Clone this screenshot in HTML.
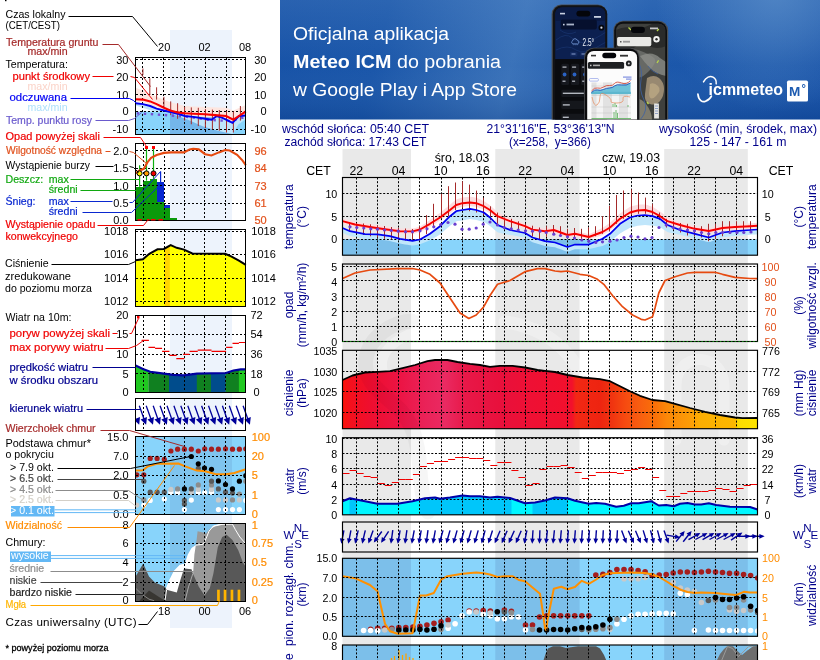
<!DOCTYPE html>
<html lang="pl"><head><meta charset="utf-8"><title>Meteo ICM - meteogram</title>
<style>html,body{margin:0;padding:0;background:#fff;overflow:hidden}svg{display:block;will-change:transform;transform:translateZ(0)}
text{font-family:"Liberation Sans",sans-serif}</style></head><body>
<svg width="820" height="660" viewBox="0 0 820 660">
<defs>
<linearGradient id="bg0" x1="0" y1="0" x2="1" y2="0">
<stop offset="0" stop-color="#1651a6"/><stop offset="0.22" stop-color="#1a56a9"/>
<stop offset="0.36" stop-color="#2f68b3"/><stop offset="0.44" stop-color="#3a72b9"/><stop offset="0.52" stop-color="#2d66b2"/>
<stop offset="0.64" stop-color="#1c58ab"/><stop offset="0.85" stop-color="#1a55a9"/><stop offset="1" stop-color="#154fa5"/></linearGradient>
<linearGradient id="bg1" x1="0" y1="0" x2="0" y2="1"><stop offset="0" stop-color="#6a9ad2" stop-opacity=".22"/><stop offset=".55" stop-color="#6a9ad2" stop-opacity="0"/><stop offset="1" stop-color="#002a70" stop-opacity=".22"/></linearGradient>
<radialGradient id="bg2" gradientUnits="userSpaceOnUse" cx="775" cy="-8" r="120"><stop offset="0" stop-color="#5a8eca" stop-opacity=".75"/><stop offset="1" stop-color="#5a8eca" stop-opacity="0"/></radialGradient>
<linearGradient id="ph1" x1="0" y1="0" x2="0" y2="1"><stop offset="0" stop-color="#0b1f4d"/><stop offset=".45" stop-color="#0a1836"/><stop offset=".5" stop-color="#0c0d12"/><stop offset="1" stop-color="#0b0b0e"/></linearGradient>
<clipPath id="bclip"><rect x="280" y="0" width="540" height="119.5"/></clipPath>
</defs>
<g clip-path="url(#bclip)">
<rect x="240" y="-10" width="620" height="140" fill="url(#bg0)" transform="skewX(-14) translate(15 0)"/>
<rect x="280" y="0" width="540" height="119.5" fill="url(#bg1)"/>
<rect x="280" y="0" width="540" height="119.5" fill="url(#bg2)"/>
<text x="293" y="39.5" fill="#fff" font-size="17.5" textLength="156" lengthAdjust="spacingAndGlyphs">Oficjalna aplikacja</text>
<text x="293" y="67.5" fill="#fff" font-size="17.5" textLength="208" lengthAdjust="spacingAndGlyphs"><tspan font-weight="bold">Meteo ICM</tspan> do pobrania</text>
<text x="293" y="95.5" fill="#fff" font-size="17.5" textLength="224" lengthAdjust="spacingAndGlyphs">w Google Play i App Store</text>
<rect x="551.600" y="4.600" width="55.600" height="130" rx="9.500" fill="#4a4d50"/>
<rect x="552.800" y="5.200" width="54.400" height="130" rx="9" fill="#111215"/>
<clipPath id="p1c"><rect x="555.200" y="7.400" width="50" height="125" rx="6.500"/></clipPath>
<g clip-path="url(#p1c)">
<rect x="555" y="7" width="51" height="52.200" fill="#0c2050"/><rect x="555" y="59.200" width="51" height="70" fill="#0a0b0e"/>
<rect x="555" y="7" width="51" height="14" fill="#0a1a44"/>
<path d="M556 40q10 -8 16 -2t14 4t20 -10M556 50q12 -6 20 0t30 -8M560 30q8 6 16 2" fill="none" stroke="#1a3570" stroke-width=".7"/>
<rect x="560.700" y="19.400" width="36.100" height="10.200" rx="2" fill="#06102e"/>
<rect x="563" y="23.800" width="1.600" height="1.600" fill="#c8d0e0"/><rect x="566.500" y="23.600" width="7.500" height="1.800" fill="#aab4c8"/>
<rect x="560" y="12.800" width="5" height="1.600" fill="#c8d0e0"/><rect x="594" y="16" width="7" height="1.800" fill="#c8d0e0"/>
<circle cx="601.400" cy="27.700" r="2.900" fill="#05070f"/><circle cx="601.400" cy="27.700" r="1.100" fill="#d8deea"/>
<path d="M572.600 40.800a2.400 2.400 0 0 1 4.600 -.6a1.900 1.900 0 0 1 .4 3.700h-4.800a1.700 1.700 0 0 1 -.2 -3.100z" fill="none" stroke="#7aa0e0" stroke-width=".8"/><path d="M573.500 45.200l.6 -1M575.500 45.200l.6 -1M577.300 45.200l.6 -1" stroke="#7aa0e0" stroke-width=".6"/>
<rect x="570" y="51.800" width="7.400" height="4.600" rx="1" fill="#13295e"/><rect x="580.100" y="51.800" width="6.500" height="4.600" rx="1" fill="#13295e"/>
<rect x="571.500" y="53.500" width="4" height="1" fill="#8aa0d0"/><rect x="581.500" y="53.500" width="3.500" height="1" fill="#8aa0d0"/>
<rect x="561.3" y="63.800" width="7.7" height="21.200" rx="1.500" fill="#16181e"/>
<rect x="562.5" y="66.500" width="4" height="1.200" fill="#c0c4cc"/><circle cx="564.6" cy="74.500" r="1.900" fill="#2a62c4"/><rect x="562.5" y="80.600" width="3" height="1.200" fill="#c0c4cc"/>
<rect x="570.9" y="63.800" width="8.3" height="21.200" rx="1.500" fill="#16181e"/>
<rect x="572.1" y="66.500" width="4" height="1.200" fill="#c0c4cc"/><circle cx="574.5" cy="74.500" r="1.900" fill="#2a62c4"/><rect x="572.1" y="80.600" width="3" height="1.200" fill="#c0c4cc"/>
<rect x="581" y="63.800" width="9.0" height="21.200" rx="1.500" fill="#16181e"/>
<rect x="582.2" y="66.500" width="4" height="1.200" fill="#c0c4cc"/><circle cx="585.0" cy="74.500" r="1.900" fill="#2a62c4"/><rect x="582.2" y="80.600" width="3" height="1.200" fill="#c0c4cc"/>
<rect x="561.300" y="89.7" width="30" height="7.3" rx="1.200" fill="#15171c"/><rect x="562.800" y="92.6" width="21" height="1.400" fill="#b4b8c0"/>
<rect x="561.300" y="100.8" width="30" height="8.2" rx="1.200" fill="#15171c"/><rect x="562.800" y="104.2" width="7" height="1.400" fill="#b4b8c0"/>
<rect x="561.300" y="113.7" width="30" height="7.3" rx="1.200" fill="#15171c"/><rect x="562.800" y="116.6" width="6" height="1.400" fill="#b4b8c0"/>
</g>
<rect x="576.400" y="10.700" width="13.900" height="5.800" rx="2.900" fill="#04050a"/>
<rect x="613.400" y="20.700" width="54.800" height="115" rx="9.500" fill="#4c4f52"/>
<rect x="614.200" y="21.500" width="52.800" height="115" rx="9" fill="#0e0f11"/>
<clipPath id="p2c"><rect x="616.200" y="23.700" width="49" height="112" rx="6.500"/></clipPath>
<g clip-path="url(#p2c)">
<rect x="616" y="23" width="50" height="100" fill="#3f403d"/>
<path d="M616 30q8 -4 16 -2t20 -4h14v22q-8 4 -18 0t-16 4t-16 -2z" fill="#2a2b2a"/>
<path d="M616 52q10 -6 22 -2t16 8t-6 14t-14 2t-18 4z" fill="#72736f" opacity=".8"/>
<path d="M640 56q12 -6 20 2l6 4v14q-10 -2 -16 -8t-10 -12z" fill="#8f908b" opacity=".75"/>
<path d="M647 78q7 -4 12 0t5 11t-4 12t-10 3t-5 -10t2 -16z" fill="#a8977a" opacity=".85"/><path d="M650 84q4 -2 8 2t-2 10t-7 -2z" fill="#c0ad88" opacity=".7"/>
<path d="M622 84q8 -2 12 6t-4 14t-10 2z" fill="#5d5e5a"/>
<path d="M630 100q10 -4 16 4t6 16h-26z" fill="#9a9482" opacity=".7"/>
<path d="M638 62q5 8 3 18t3 20t-4 20" fill="none" stroke="#3e62a4" stroke-width=".8"/><path d="M648 66q4 6 10 8" fill="none" stroke="#3e62a4" stroke-width=".7"/>
<rect x="617.100" y="37" width="34.200" height="9.200" rx="1.600" fill="#e9e9e6"/><rect x="620" y="41" width="1.500" height="1.500" fill="#555"/><rect x="623" y="40.800" width="7" height="1.800" fill="#999"/>
<circle cx="656.500" cy="39.200" r="3.200" fill="#f3f3f1"/><circle cx="656.500" cy="39.200" r="1.200" fill="#2a2a2a"/>
<rect x="654.100" y="103.500" width="4.800" height="15" fill="#e6e6e4"/><path d="M655 106h3M655 108.500h3M655 111h3M655 113.500h3" stroke="#5570b0" stroke-width=".6"/>
<path d="M628.500 27.500l2.500 2.500M657 31l1.800 -2M657 63l1.600 -2.600M647 102l1.500 2" stroke="#b8d64a" stroke-width="1.300"/>
<rect x="650" y="27.500" width="8" height="1.800" fill="#c8c8c8"/>
</g>
<rect x="631" y="26.800" width="13.900" height="6.100" rx="3" fill="#04050a"/>
<rect x="584.200" y="47.700" width="55.500" height="90" rx="9.500" fill="#4a4c4f"/>
<rect x="585" y="48.500" width="53.800" height="90" rx="9" fill="#0b0b0d"/>
<clipPath id="p3c"><rect x="587.200" y="50.900" width="49.900" height="90" rx="6.500"/></clipPath>
<g clip-path="url(#p3c)">
<rect x="587" y="50" width="51" height="72" fill="#fcfcfc"/>
<rect x="591" y="54.800" width="5" height="1.600" fill="#333"/><rect x="620" y="54.800" width="8" height="1.800" fill="#333"/>
<rect x="587.900" y="61.900" width="36.200" height="6.900" rx="1.500" fill="#1e2023"/><rect x="590" y="64.700" width="1.500" height="1.500" fill="#ccc"/><rect x="593" y="64.600" width="7" height="1.600" fill="#aaa"/>
<circle cx="628.800" cy="63.400" r="2.900" fill="#1e2023"/><circle cx="628.800" cy="63.400" r="1" fill="#ddd"/>
<rect x="589.400" y="78.500" width="9" height="2.600" rx="1" fill="none" stroke="#6a7fe0" stroke-width=".5"/><rect x="623" y="76.500" width="8.500" height="1.200" fill="#8090e0"/><rect x="626" y="78.500" width="5.500" height="1.200" fill="#8090e0"/>
<rect x="591.500" y="82.500" width="39.500" height="36" fill="#f4f4f4"/>
<rect x="591.5" y="82.500" width="5" height="36" fill="#e2e2e2"/>
<rect x="603" y="82.500" width="9" height="36" fill="#e2e2e2"/>
<rect x="619" y="82.500" width="9" height="36" fill="#e2e2e2"/>
<path d="M591.500 86h39.500M591.500 95.500h39.500M591.500 107h39.500M591.500 113h39.500" stroke="#bdbdbd" stroke-width=".4"/>
<path d="M591.500 92q3 -3 6 -2.500t6 -.5t6 -1.500t5 -2t7 -1t9 -2v11.500h-39.500z" fill="#6fc2d8"/>
<rect x="591.500" y="91.800" width="39.500" height="2.400" fill="#5ab4cc" opacity=".8"/>
<path d="M591.500 91q3 -4 6 -3t6 -1t6 -1.500t5 -2t7 -.5t9 -2.500" fill="none" stroke="#d23a2a" stroke-width=".8"/>
<path d="M591.500 92.500q3 -3.500 6 -2.500t6 -.5t6 -1.500t5 -2t7 -1t9 -2" fill="none" stroke="#2546b8" stroke-width=".8"/>
<path d="M592 97q2 10 5 8t3 -8t6 -2t5 6t6 2t6 -4t7 -2" fill="none" stroke="#e58a5c" stroke-width=".7"/>
<path d="M613 107v-3M615 107v-4M616.500 107v-2M614 118v-6M616 118v-8M617.500 118v-5M628 107v-2" stroke="#58b058" stroke-width=".8"/>
<rect x="591.500" y="118" width="39.500" height=".8" fill="#58b058"/>
</g>
<rect x="602.300" y="52.700" width="13.900" height="5.500" rx="2.750" fill="#04050a"/>
<text x="582.6" y="46.2" fill="#f0f4fa" font-size="10.5" textLength="11.500" lengthAdjust="spacingAndGlyphs">2.5°</text>
<path d="M697.900 94.100C698.600 100.500 702.500 102.600 705.600 101.200S710.600 98.200 711.400 96.100" fill="none" stroke="#fff" stroke-width="1.700" stroke-linecap="round"/>
<path d="M703.500 81.900C706 77.200 710 75.600 713 77.200S716.500 81 716.200 83.800" fill="none" stroke="#fff" stroke-width="1.500" stroke-linecap="round"/>
<text x="708.6" y="95.3" fill="#fff" font-size="17" font-weight="bold" textLength="74.500" lengthAdjust="spacingAndGlyphs">icmmeteo</text>
<rect x="787" y="80.600" width="21" height="21" rx="1.600" fill="#fff"/>
<text x="789" y="95.9" fill="#1d5bb0" font-size="12.3" font-weight="bold" textLength="11.300" lengthAdjust="spacingAndGlyphs">M</text>
<text x="801.6" y="92.3" fill="#1d5bb0" font-size="11" font-weight="bold">°</text>
</g>
<text x="282" y="133" fill="#00008b" font-size="12.3" textLength="147" lengthAdjust="spacingAndGlyphs">wschód słońca: 05:40 CET</text>
<text x="284.5" y="145.5" fill="#00008b" font-size="12.3" textLength="142" lengthAdjust="spacingAndGlyphs">zachód słońca: 17:43 CET</text>
<text x="550.5" y="133" fill="#00008b" font-size="12.3" text-anchor="middle" textLength="128" lengthAdjust="spacingAndGlyphs">21°31'16"E, 53°36'13"N</text>
<text x="550" y="145.5" fill="#00008b" font-size="12.3" text-anchor="middle" xml:space="preserve" textLength="82" lengthAdjust="spacingAndGlyphs">(x=258,  y=366)</text>
<text x="738" y="133" fill="#00008b" font-size="12.3" text-anchor="middle" textLength="158" lengthAdjust="spacingAndGlyphs">wysokość (min, środek, max)</text>
<text x="738" y="145.5" fill="#00008b" font-size="12.3" text-anchor="middle" textLength="97" lengthAdjust="spacingAndGlyphs">125 - 147 - 161 m</text>
<rect x="342.5" y="149" width="68.5" height="511" fill="#e9e9e9"/>
<rect x="495.3" y="149" width="84.3" height="511" fill="#e9e9e9"/>
<rect x="664.2" y="149" width="83.6" height="511" fill="#e9e9e9"/>
<g fill="none" stroke-linecap="round" stroke-linejoin="round">
<path d="M412 321C392 322 370 336 366 358S380 392 396 406S418 440 420 470S424 500 428 512" stroke="#000" stroke-opacity=".035" stroke-width="15"/>
<path d="M424 330C404 334 384 346 382 362S394 388 408 400" stroke="#fff" stroke-opacity=".35" stroke-width="10"/>
<path d="M505 322C562 330 590 372 592 420" stroke="#fff" stroke-opacity=".3" stroke-width="13"/>
<path d="M676 440V385C676 352 722 350 724 385V440" stroke="#fff" stroke-opacity=".3" stroke-width="11"/>
</g>
<text x="318.5" y="175" fill="#000" font-size="12.3" text-anchor="middle">CET</text>
<text x="781" y="175" fill="#000" font-size="12.3" text-anchor="middle">CET</text>
<text x="356.3" y="174.6" fill="#000" font-size="12.3" text-anchor="middle">22</text>
<text x="398.5" y="174.6" fill="#000" font-size="12.3" text-anchor="middle">04</text>
<text x="440.7" y="174.6" fill="#000" font-size="12.3" text-anchor="middle">10</text>
<text x="482.9" y="174.6" fill="#000" font-size="12.3" text-anchor="middle">16</text>
<text x="525.2" y="174.6" fill="#000" font-size="12.3" text-anchor="middle">22</text>
<text x="567.4" y="174.6" fill="#000" font-size="12.3" text-anchor="middle">04</text>
<text x="609.6" y="174.6" fill="#000" font-size="12.3" text-anchor="middle">10</text>
<text x="651.8" y="174.6" fill="#000" font-size="12.3" text-anchor="middle">16</text>
<text x="694.1" y="174.6" fill="#000" font-size="12.3" text-anchor="middle">22</text>
<text x="736.3" y="174.6" fill="#000" font-size="12.3" text-anchor="middle">04</text>
<text x="462" y="161.8" fill="#000" font-size="12.3" text-anchor="middle">śro, 18.03</text>
<text x="631" y="161.8" fill="#000" font-size="12.3" text-anchor="middle">czw, 19.03</text>
<clipPath id="rclip"><rect x="342.5" y="0" width="415" height="660"/></clipPath>
<g clip-path="url(#rclip)">
<rect x="342.5" y="239.4" width="415" height="15.8" fill="#88d4fb"/>
<rect x="342.5" y="239.4" width="68.5" height="15.8" fill="#7cbfea"/>
<rect x="495.3" y="239.4" width="84.3" height="15.8" fill="#7cbfea"/>
<rect x="664.2" y="239.4" width="83.6" height="15.8" fill="#7cbfea"/>
<polygon points="342.5,228.0 345.0,229.1 347.5,230.1 350.0,231.2 352.5,231.7 355.0,232.2 357.5,232.7 360.0,233.2 362.5,233.7 365.0,234.2 367.5,234.2 370.0,234.3 372.5,234.3 375.0,234.4 377.5,234.4 380.0,234.8 382.5,235.1 385.0,235.5 387.5,235.8 390.0,236.2 392.5,236.8 395.0,237.5 397.5,238.2 400.0,238.8 402.5,239.2 405.0,239.6 407.5,240.0 410.0,240.4 412.5,240.8 415.0,240.4 417.5,239.9 420.0,239.5 422.5,238.1 425.0,236.7 427.5,235.2 430.0,233.8 432.5,231.9 435.0,230.0 437.5,228.1 440.0,226.2 442.5,223.7 445.0,221.2 447.5,218.7 450.0,216.2 452.5,214.2 455.0,212.2 457.5,211.0 460.0,210.5 462.5,210.0 465.0,209.6 467.5,209.2 470.0,208.8 472.5,209.3 475.0,209.8 477.5,210.4 480.0,211.2 482.5,212.1 485.0,213.5 487.5,215.5 490.0,217.5 492.5,220.0 495.0,222.5 497.5,225.0 500.0,226.0 502.5,227.0 505.0,228.0 507.5,229.0 510.0,230.0 512.5,230.5 515.0,231.0 517.5,231.5 520.0,232.0 522.5,232.5 525.0,233.0 527.5,234.5 530.0,236.0 532.5,237.5 535.0,238.2 537.5,239.0 540.0,239.7 542.5,240.5 545.0,241.2 547.5,241.5 550.0,241.8 552.5,242.2 555.0,242.5 557.5,243.4 560.0,244.3 562.5,245.2 565.0,246.1 567.5,247.0 570.0,246.2 572.5,245.3 575.0,244.5 577.5,244.5 580.0,244.5 582.5,244.5 585.0,244.5 587.5,244.5 590.0,244.0 592.5,243.0 595.0,241.9 597.5,240.9 600.0,239.8 602.5,238.8 605.0,237.1 607.5,235.5 610.0,233.8 612.5,231.3 615.0,228.8 617.5,226.3 620.0,223.8 622.5,222.2 625.0,220.7 627.5,219.1 630.0,217.5 632.5,216.8 635.0,216.2 637.5,215.5 640.0,215.3 642.5,215.2 645.0,215.0 647.5,215.4 650.0,215.8 652.5,216.2 655.0,217.1 657.5,217.9 660.0,218.8 662.5,220.9 665.0,222.9 667.5,225.0 670.0,226.0 672.5,227.0 675.0,228.0 677.5,229.0 680.0,230.0 682.5,230.6 685.0,231.3 687.5,231.9 690.0,232.5 692.5,233.2 695.0,233.8 697.5,234.5 700.0,235.1 702.5,235.8 705.0,236.5 707.5,237.2 710.0,237.1 712.5,236.1 715.0,235.2 717.5,234.3 720.0,233.4 722.5,232.5 725.0,232.2 727.5,232.0 730.0,231.7 732.5,231.5 735.0,231.2 737.5,231.0 740.0,230.8 742.5,230.6 745.0,230.4 747.5,230.2 750.0,230.0 752.5,229.8 755.0,229.7 757.5,229.5 757.5,234.3 755.0,234.5 752.5,234.6 750.0,234.8 747.5,235.0 745.0,235.2 742.5,235.4 740.0,235.6 737.5,235.8 735.0,236.0 732.5,236.3 730.0,236.5 727.5,236.8 725.0,237.0 722.5,237.3 720.0,238.2 717.5,239.1 715.0,240.0 712.5,240.9 710.0,241.9 707.5,242.0 705.0,241.3 702.5,240.6 700.0,239.9 697.5,239.3 695.0,238.6 692.5,238.0 690.0,237.3 687.5,236.7 685.0,236.1 682.5,235.4 680.0,234.8 677.5,234.3 675.0,233.8 672.5,233.2 670.0,232.7 667.5,232.1 665.0,230.5 662.5,228.8 660.0,227.1 657.5,226.6 655.0,226.1 652.5,225.5 650.0,225.4 647.5,225.2 645.0,225.0 642.5,225.3 640.0,225.5 637.5,225.8 635.0,226.5 632.5,227.1 630.0,227.7 627.5,229.2 625.0,230.6 622.5,232.0 620.0,233.4 617.5,235.6 615.0,237.8 612.5,240.0 610.0,242.1 607.5,243.4 605.0,244.7 602.5,245.9 600.0,246.5 597.5,247.1 595.0,247.7 592.5,248.2 590.0,248.8 587.5,249.3 585.0,249.3 582.5,249.3 580.0,249.3 577.5,249.3 575.0,249.3 572.5,250.1 570.0,251.0 567.5,251.8 565.0,250.9 562.5,250.0 560.0,249.1 557.5,248.2 555.0,247.3 552.5,247.0 550.0,246.7 547.5,246.3 545.0,246.0 542.5,245.3 540.0,244.5 537.5,243.8 535.0,243.0 532.5,242.3 530.0,240.8 527.5,239.3 525.0,237.8 522.5,237.3 520.0,236.8 517.5,236.3 515.0,235.8 512.5,235.3 510.0,235.0 507.5,234.5 505.0,233.9 502.5,233.4 500.0,232.9 497.5,232.3 495.0,230.2 492.5,228.1 490.0,226.0 487.5,224.3 485.0,222.6 482.5,221.5 480.0,220.9 477.5,220.3 475.0,219.8 472.5,219.4 470.0,219.0 467.5,219.5 465.0,219.9 462.5,220.3 460.0,220.7 457.5,221.0 455.0,222.1 452.5,223.9 450.0,225.7 447.5,227.9 445.0,230.1 442.5,232.3 440.0,234.4 437.5,235.9 435.0,237.4 432.5,238.8 430.0,240.3 427.5,241.3 425.0,242.2 422.5,243.2 420.0,244.3 417.5,244.7 415.0,245.2 412.5,245.6 410.0,245.2 407.5,244.8 405.0,244.4 402.5,244.0 400.0,243.6 397.5,243.0 395.0,242.3 392.5,241.7 390.0,241.0 387.5,240.6 385.0,240.3 382.5,239.9 380.0,239.6 377.5,239.2 375.0,239.2 372.5,239.1 370.0,239.1 367.5,239.0 365.0,239.0 362.5,238.5 360.0,238.0 357.5,237.5 355.0,237.0 352.5,236.5 350.0,236.0 347.5,234.9 345.0,233.9 342.5,232.8" fill="#c0e6fb" fill-opacity="1"/>
<polygon points="342.5,218.4 345.0,219.1 347.5,219.7 350.0,220.4 352.5,221.0 355.0,221.7 357.5,222.1 360.0,222.5 362.5,222.9 365.0,223.4 367.5,223.8 370.0,224.2 372.5,224.6 375.0,224.9 377.5,225.3 380.0,225.7 382.5,226.0 385.0,226.4 387.5,226.7 390.0,227.1 392.5,227.4 395.0,227.7 397.5,228.1 400.0,228.4 402.5,228.4 405.0,228.5 407.5,228.5 410.0,228.6 412.5,228.6 415.0,228.0 417.5,227.3 420.0,226.7 422.5,225.1 425.0,223.4 427.5,221.8 430.0,220.1 432.5,218.3 435.0,216.4 437.5,214.6 440.0,212.9 442.5,210.8 445.0,208.7 447.5,206.7 450.0,204.7 452.5,202.5 455.0,200.4 457.5,199.0 460.0,198.2 462.5,197.4 465.0,197.2 467.5,196.9 470.0,196.7 472.5,197.1 475.0,197.4 477.5,198.2 480.0,199.3 482.5,200.4 485.0,201.8 487.5,203.5 490.0,205.2 492.5,207.5 495.0,209.7 497.5,212.0 500.0,213.3 502.5,214.5 505.0,215.8 507.5,217.0 510.0,218.3 512.5,219.2 515.0,220.1 517.5,220.9 520.0,221.7 522.5,222.6 525.0,223.4 527.5,224.5 530.0,225.7 532.5,226.8 535.0,227.1 537.5,227.4 540.0,227.8 542.5,228.1 545.0,228.4 547.5,228.1 550.0,227.7 552.5,227.4 555.0,227.6 557.5,228.6 560.0,229.5 562.5,230.4 565.0,231.3 567.5,232.2 570.0,231.8 572.5,231.4 575.0,231.0 577.5,231.6 580.0,232.2 582.5,232.7 585.0,233.3 587.5,233.9 590.0,233.8 592.5,232.6 595.0,231.4 597.5,230.2 600.0,229.1 602.5,227.9 605.0,226.2 607.5,224.5 610.0,222.8 612.5,220.4 615.0,218.1 617.5,215.7 620.0,213.4 622.5,211.7 625.0,210.0 627.5,208.4 630.0,206.7 632.5,206.0 635.0,205.4 637.5,204.7 640.0,204.6 642.5,204.5 645.0,204.4 647.5,205.1 650.0,205.9 652.5,206.7 655.0,208.3 657.5,209.9 660.0,211.5 662.5,213.3 665.0,215.2 667.5,217.1 670.0,218.1 672.5,219.1 675.0,220.2 677.5,221.2 680.0,222.2 682.5,222.8 685.0,223.5 687.5,224.1 690.0,224.7 692.5,225.4 695.0,226.0 697.5,226.4 700.0,226.8 702.5,227.2 705.0,227.6 707.5,228.0 710.0,227.9 712.5,227.4 715.0,226.8 717.5,226.3 720.0,225.7 722.5,225.2 725.0,225.0 727.5,224.8 730.0,224.6 732.5,224.4 735.0,224.2 737.5,224.1 740.0,223.9 742.5,223.8 745.0,223.7 747.5,223.5 750.0,223.4 752.5,223.3 755.0,223.1 757.5,223.0 757.5,228.4 755.0,228.5 752.5,228.7 750.0,228.8 747.5,228.9 745.0,229.1 742.5,229.2 740.0,229.3 737.5,229.5 735.0,229.6 732.5,229.8 730.0,230.0 727.5,230.2 725.0,230.4 722.5,230.6 720.0,231.1 717.5,231.7 715.0,232.2 712.5,232.8 710.0,233.3 707.5,233.4 705.0,233.0 702.5,232.6 700.0,232.2 697.5,231.8 695.0,231.4 692.5,230.8 690.0,230.1 687.5,229.5 685.0,228.9 682.5,228.2 680.0,227.6 677.5,226.9 675.0,226.3 672.5,225.6 670.0,224.9 667.5,224.2 665.0,222.6 662.5,221.0 660.0,219.4 657.5,218.1 655.0,216.8 652.5,215.4 650.0,214.8 647.5,214.2 645.0,213.5 642.5,213.7 640.0,213.9 637.5,214.1 635.0,214.8 632.5,215.4 630.0,216.1 627.5,217.6 625.0,219.2 622.5,220.7 620.0,222.3 617.5,224.4 615.0,226.5 612.5,228.6 610.0,230.7 607.5,232.2 605.0,233.6 602.5,235.0 600.0,235.9 597.5,236.7 595.0,237.5 592.5,238.3 590.0,239.2 587.5,239.3 585.0,238.7 582.5,238.1 580.0,237.6 577.5,237.0 575.0,236.4 572.5,236.8 570.0,237.2 567.5,237.6 565.0,236.7 562.5,235.8 560.0,234.9 557.5,234.0 555.0,233.0 552.5,232.8 550.0,233.1 547.5,233.5 545.0,233.8 542.5,233.5 540.0,233.2 537.5,232.8 535.0,232.5 532.5,232.2 530.0,231.1 527.5,229.9 525.0,228.8 522.5,228.0 520.0,227.1 517.5,226.3 515.0,225.5 512.5,224.6 510.0,223.8 507.5,222.9 505.0,222.0 502.5,221.1 500.0,220.2 497.5,219.3 495.0,217.3 492.5,215.3 490.0,213.3 487.5,211.8 485.0,210.3 482.5,209.1 480.0,208.2 477.5,207.2 475.0,206.6 472.5,206.4 470.0,206.1 467.5,206.3 465.0,206.6 462.5,206.8 460.0,207.5 457.5,208.2 455.0,209.5 452.5,211.5 450.0,213.4 447.5,215.3 445.0,217.1 442.5,218.9 440.0,220.7 437.5,222.2 435.0,223.7 432.5,225.2 430.0,226.7 427.5,228.0 425.0,229.4 422.5,230.7 420.0,232.1 417.5,232.7 415.0,233.4 412.5,234.0 410.0,234.0 407.5,233.9 405.0,233.9 402.5,233.8 400.0,233.8 397.5,233.5 395.0,233.1 392.5,232.8 390.0,232.5 387.5,232.1 385.0,231.8 382.5,231.4 380.0,231.1 377.5,230.7 375.0,230.3 372.5,230.0 370.0,229.6 367.5,229.2 365.0,228.8 362.5,228.3 360.0,227.9 357.5,227.5 355.0,227.1 352.5,226.4 350.0,225.8 347.5,225.1 345.0,224.5 342.5,223.8" fill="#fcdde0" fill-opacity="1"/>
</g>
<path d="M356.5 177.5V255.2M377.5 177.5V255.2M398.5 177.5V255.2M419.5 177.5V255.2M441.5 177.5V255.2M462.5 177.5V255.2M483.5 177.5V255.2M504.5 177.5V255.2M525.5 177.5V255.2M546.5 177.5V255.2M567.5 177.5V255.2M588.5 177.5V255.2M609.5 177.5V255.2M631.5 177.5V255.2M652.5 177.5V255.2M673.5 177.5V255.2M694.5 177.5V255.2M715.5 177.5V255.2M736.5 177.5V255.2M757.5 177.5V255.2M342.5 193.5H757.5M342.5 216.5H757.5M342.5 239.5H757.5" stroke="#000" stroke-width="1" stroke-dasharray="2 1.700" fill="none"/>
<path d="M349.5 222.5V231.2M356.5 223.0V233.1M363.5 223.5V235.0M370.5 224.3V236.3M377.5 225.2V237.5M384.5 226.0V238.8M391.5 227.0V239.4M398.5 228.0V240.0M405.5 228.5V240.5M412.5 229.0V241.0M419.5 226.0V240.5M426.5 215.1V234.1M433.5 203.8V226.2M441.5 193.8V217.5M448.5 186.2V216.2M455.5 182.5V210.0M462.5 181.3V207.6M469.5 184.6V211.2M476.5 190.6V212.5M483.5 197.7V215.1M490.5 206.3V220.0M497.5 212.6V223.8M504.5 217.5V226.2M511.5 218.8V230.0M518.5 221.3V231.5M525.5 223.8V233.0M532.5 225.7V236.5M539.5 227.5V239.9M546.5 226.2V236.8M553.5 225.0V233.8M560.5 226.2V236.2M567.5 228.8V238.8M574.5 228.0V238.8M581.5 228.8V238.8M588.5 227.5V237.5M595.5 226.2V236.2M602.5 216.1V233.8M609.5 206.0V231.1M616.5 195.0V223.8M623.5 190.5V218.8M631.5 189.5V215.0M638.5 192.5V213.8M645.5 197.6V213.8M652.5 204.0V216.3M659.5 212.6V220.1M666.5 218.8V227.5M673.5 221.2V230.0M680.5 223.0V232.5M687.5 223.8V235.5M694.5 225.0V236.2M701.5 226.2V237.5M708.5 223.8V241.2M715.5 223.8V238.8M722.5 221.2V236.2M729.5 221.2V233.8M736.5 221.2V233.5M743.5 221.2V233.1M750.5 221.2V232.8" stroke="#a52a2a" stroke-width="1" fill="none"/>
<polyline points="342.5,228.0 350.0,231.2 365.0,234.2 377.5,234.4 390.0,236.2 400.0,238.8 412.5,240.8 420.0,239.5 430.0,233.8 440.0,226.2 450.0,216.2 456.2,211.2 462.5,210.0 470.0,208.8 476.2,210.0 483.8,212.5 490.0,217.5 497.5,225.0 510.0,230.0 525.0,233.0 532.5,237.5 545.0,241.2 555.0,242.5 567.5,247.0 575.0,244.5 588.8,244.5 602.5,238.8 610.0,233.8 620.0,223.8 630.0,217.5 637.5,215.5 645.0,215.0 652.5,216.2 660.0,218.8 667.5,225.0 680.0,230.0 695.0,233.8 708.8,237.5 722.5,232.5 735.0,231.2 750.0,230.0 757.5,229.5" fill="none" stroke="#0000f0" stroke-width="1.750" stroke-linejoin="round"/>
<polyline points="342.5,221.2 355.0,224.5 370.0,227.0 385.0,229.2 400.0,231.2 412.5,231.4 420.0,229.5 430.0,223.8 440.0,217.5 450.0,210.0 456.2,205.0 462.5,203.2 470.0,202.5 476.2,203.2 483.8,206.2 490.0,210.0 497.5,216.2 510.0,221.2 525.0,226.2 532.5,229.6 545.0,231.2 553.8,230.0 567.5,235.0 575.0,233.8 588.8,237.0 602.5,232.0 610.0,227.5 620.0,218.8 630.0,212.5 637.5,210.5 645.0,210.0 652.5,212.0 660.0,216.2 667.5,221.2 680.0,225.0 695.0,228.8 708.8,231.0 722.5,228.0 735.0,227.0 750.0,226.2 757.5,225.8" fill="none" stroke="#f80000" stroke-width="1.900" stroke-linejoin="round"/>
<g fill="#6a3fd0"><circle cx="350.0" cy="226.8" r="1.600"/><circle cx="356.8" cy="227.5" r="1.600"/><circle cx="363.8" cy="228.0" r="1.600"/><circle cx="370.8" cy="228.8" r="1.600"/><circle cx="377.5" cy="229.2" r="1.600"/><circle cx="384.5" cy="230.0" r="1.600"/><circle cx="391.2" cy="230.5" r="1.600"/><circle cx="398.2" cy="231.2" r="1.600"/><circle cx="405.5" cy="231.8" r="1.600"/><circle cx="412.5" cy="231.8" r="1.600"/><circle cx="420.0" cy="230.8" r="1.600"/><circle cx="427.0" cy="228.8" r="1.600"/><circle cx="433.8" cy="226.8" r="1.600"/><circle cx="440.8" cy="224.5" r="1.600"/><circle cx="448.0" cy="222.5" r="1.600"/><circle cx="455.0" cy="224.2" r="1.600"/><circle cx="462.0" cy="229.2" r="1.600"/><circle cx="469.2" cy="229.2" r="1.600"/><circle cx="476.2" cy="228.0" r="1.600"/><circle cx="483.2" cy="224.2" r="1.600"/><circle cx="490.0" cy="222.0" r="1.600"/><circle cx="497.5" cy="225.0" r="1.600"/><circle cx="504.2" cy="227.5" r="1.600"/><circle cx="511.2" cy="228.8" r="1.600"/><circle cx="518.2" cy="230.0" r="1.600"/><circle cx="525.5" cy="230.8" r="1.600"/><circle cx="532.5" cy="231.2" r="1.600"/><circle cx="540.0" cy="231.2" r="1.600"/><circle cx="546.2" cy="232.5" r="1.600"/><circle cx="553.8" cy="234.2" r="1.600"/><circle cx="560.5" cy="235.5" r="1.600"/><circle cx="567.5" cy="236.8" r="1.600"/><circle cx="574.5" cy="238.0" r="1.600"/><circle cx="581.8" cy="240.0" r="1.600"/><circle cx="588.8" cy="241.2" r="1.600"/><circle cx="595.8" cy="242.5" r="1.600"/><circle cx="602.5" cy="241.8" r="1.600"/><circle cx="610.0" cy="241.2" r="1.600"/><circle cx="617.0" cy="240.0" r="1.600"/><circle cx="624.0" cy="237.5" r="1.600"/><circle cx="631.0" cy="236.2" r="1.600"/><circle cx="638.0" cy="237.0" r="1.600"/><circle cx="645.0" cy="238.8" r="1.600"/><circle cx="652.0" cy="237.5" r="1.600"/><circle cx="659.0" cy="227.5" r="1.600"/><circle cx="666.2" cy="225.0" r="1.600"/><circle cx="673.2" cy="227.5" r="1.600"/><circle cx="680.0" cy="229.2" r="1.600"/><circle cx="687.5" cy="230.0" r="1.600"/><circle cx="694.5" cy="230.8" r="1.600"/><circle cx="701.5" cy="232.5" r="1.600"/><circle cx="708.8" cy="233.8" r="1.600"/><circle cx="715.8" cy="232.5" r="1.600"/><circle cx="722.5" cy="232.5" r="1.600"/><circle cx="730.0" cy="232.5" r="1.600"/><circle cx="737.0" cy="232.5" r="1.600"/><circle cx="743.8" cy="232.5" r="1.600"/><circle cx="751.0" cy="232.0" r="1.600"/></g>
<rect x="342.5" y="177.5" width="415.0" height="77.7" fill="none" stroke="#000" stroke-width="1.150"/>
<text x="337.3" y="198.3" fill="#000" font-size="10.7" text-anchor="end">10</text>
<text x="337.3" y="220.8" fill="#000" font-size="10.7" text-anchor="end">5</text>
<text x="337.3" y="243.4" fill="#000" font-size="10.7" text-anchor="end">0</text>
<text x="767.8" y="198.3" fill="#000" font-size="10.7" text-anchor="middle">10</text>
<text x="767.8" y="220.8" fill="#000" font-size="10.7" text-anchor="middle">5</text>
<text x="767.8" y="243.4" fill="#000" font-size="10.7" text-anchor="middle">0</text>
<text transform="translate(293.3 216.8) rotate(-90)" fill="#00008b" font-size="12" text-anchor="middle">temperatura</text>
<text transform="translate(305.8 216.8) rotate(-90)" fill="#00008b" font-size="12" text-anchor="middle">(°C)</text>
<text transform="translate(803.3 216.8) rotate(-90)" fill="#00008b" font-size="12" text-anchor="middle">(°C)</text>
<text transform="translate(816 216.8) rotate(-90)" fill="#00008b" font-size="12" text-anchor="middle">temperatura</text>
<path d="M356.5 264V341.5M377.5 264V341.5M398.5 264V341.5M419.5 264V341.5M441.5 264V341.5M462.5 264V341.5M483.5 264V341.5M504.5 264V341.5M525.5 264V341.5M546.5 264V341.5M567.5 264V341.5M588.5 264V341.5M609.5 264V341.5M631.5 264V341.5M652.5 264V341.5M673.5 264V341.5M694.5 264V341.5M715.5 264V341.5M736.5 264V341.5M757.5 264V341.5M342.5 266.5H757.5M342.5 280.5H757.5M342.5 296.5H757.5M342.5 311.5H757.5M342.5 326.5H757.5" stroke="#000" stroke-width="1" stroke-dasharray="2 1.700" fill="none"/>
<polyline points="342.5,278.5 355.0,273.0 370.0,270.0 397.5,268.7 412.5,268.5 420.0,270.0 430.0,274.3 440.0,283.0 450.0,298.0 460.0,313.0 468.8,318.5 476.2,315.0 483.8,306.7 490.0,295.5 497.5,284.3 510.0,280.5 525.0,271.7 537.5,268.7 545.0,268.7 555.0,271.0 561.0,271.7 567.5,271.0 580.0,274.3 588.8,275.5 597.5,279.3 603.8,284.3 612.5,295.5 622.5,306.7 632.5,315.0 641.2,319.3 645.0,320.0 652.5,316.7 655.0,308.0 658.8,293.0 665.0,280.5 675.0,276.7 687.5,273.0 695.0,272.3 715.0,272.3 722.5,274.3 735.0,277.3 750.0,278.5 757.5,278.7" fill="none" stroke="#e64a10" stroke-width="1.700" stroke-linejoin="round"/>
<rect x="342.5" y="264" width="415.0" height="77.5" fill="none" stroke="#000" stroke-width="1.150"/>
<path d="M342.5 341.5H757.5" stroke="#0a8a0a" stroke-width="1" stroke-dasharray="1.500 2.200"/>
<text x="337.3" y="271.2" fill="#000" font-size="10.7" text-anchor="end">5</text>
<text x="337.3" y="286.2" fill="#000" font-size="10.7" text-anchor="end">4</text>
<text x="337.3" y="301.2" fill="#000" font-size="10.7" text-anchor="end">3</text>
<text x="337.3" y="316.2" fill="#000" font-size="10.7" text-anchor="end">2</text>
<text x="337.3" y="331.2" fill="#000" font-size="10.7" text-anchor="end">1</text>
<text x="337.3" y="346.2" fill="#000" font-size="10.7" text-anchor="end">0</text>
<text x="770.5" y="271.2" fill="#e2501a" font-size="10.7" text-anchor="middle">100</text>
<text x="770.5" y="286.2" fill="#e2501a" font-size="10.7" text-anchor="middle">90</text>
<text x="770.5" y="301.2" fill="#e2501a" font-size="10.7" text-anchor="middle">80</text>
<text x="770.5" y="316.2" fill="#e2501a" font-size="10.7" text-anchor="middle">70</text>
<text x="770.5" y="331.2" fill="#e2501a" font-size="10.7" text-anchor="middle">60</text>
<text x="770.5" y="346.2" fill="#e2501a" font-size="10.7" text-anchor="middle">50</text>
<text transform="translate(293.3 305) rotate(-90)" fill="#00008b" font-size="12" text-anchor="middle">opad</text>
<text transform="translate(305.8 305) rotate(-90)" fill="#00008b" font-size="12" text-anchor="middle">(mm/h, kg/m²/h)</text>
<text transform="translate(803.3 305.5) rotate(-90)" fill="#00008b" font-size="12" text-anchor="middle">(%)</text>
<text transform="translate(816 305.5) rotate(-90)" fill="#00008b" font-size="12" text-anchor="middle">wilgotność wzgl.</text>
<linearGradient id="pg" gradientUnits="userSpaceOnUse" x1="342.5" y1="0" x2="757.5" y2="0"><stop offset="0.0000" stop-color="#fb1208"/><stop offset="0.0181" stop-color="#f4101c"/><stop offset="0.0711" stop-color="#ee0e30"/><stop offset="0.1386" stop-color="#ec1444"/><stop offset="0.1988" stop-color="#ea2258"/><stop offset="0.2470" stop-color="#ea2a62"/><stop offset="0.2952" stop-color="#e81848"/><stop offset="0.3795" stop-color="#e8103c"/><stop offset="0.4518" stop-color="#ee1034"/><stop offset="0.5530" stop-color="#f2102c"/><stop offset="0.5627" stop-color="#f22814"/><stop offset="0.6205" stop-color="#ee2410"/><stop offset="0.6494" stop-color="#f03410"/><stop offset="0.6807" stop-color="#f64a10"/><stop offset="0.7169" stop-color="#f85e10"/><stop offset="0.7530" stop-color="#fa7008"/><stop offset="0.7819" stop-color="#fb8808"/><stop offset="0.8373" stop-color="#fc9c06"/><stop offset="0.8614" stop-color="#fcae02"/><stop offset="0.9458" stop-color="#fcb800"/><stop offset="0.9530" stop-color="#fcdc00"/><stop offset="1.0000" stop-color="#fde400"/></linearGradient>
<polygon points="342.5,380.0 352.5,375.5 365.0,372.5 377.5,371.8 390.0,371.2 402.5,368.2 415.0,365.0 427.5,361.2 435.0,360.0 447.5,360.0 457.5,362.0 470.0,363.8 480.0,365.0 490.0,366.8 500.0,365.8 512.5,365.8 525.0,367.5 537.5,370.0 545.0,370.8 555.0,372.0 567.5,375.0 582.5,377.5 600.0,379.2 610.0,381.2 620.0,386.2 630.0,391.2 640.0,395.8 652.5,400.0 665.0,401.2 675.0,403.8 690.0,408.0 705.0,411.8 720.0,415.0 735.0,417.5 742.5,418.2 757.5,418.0 757.5,428.7 342.5,428.7" fill="url(#pg)"/>
<clipPath id="prc"><polygon points="342.5,380.0 352.5,375.5 365.0,372.5 377.5,371.8 390.0,371.2 402.5,368.2 415.0,365.0 427.5,361.2 435.0,360.0 447.5,360.0 457.5,362.0 470.0,363.8 480.0,365.0 490.0,366.8 500.0,365.8 512.5,365.8 525.0,367.5 537.5,370.0 545.0,370.8 555.0,372.0 567.5,375.0 582.5,377.5 600.0,379.2 610.0,381.2 620.0,386.2 630.0,391.2 640.0,395.8 652.5,400.0 665.0,401.2 675.0,403.8 690.0,408.0 705.0,411.8 720.0,415.0 735.0,417.5 742.5,418.2 757.5,418.0 757.5,428.7 342.5,428.7"/></clipPath>
<g clip-path="url(#prc)" fill="none" stroke="#90002a" stroke-opacity=".08"><path d="M412 321C392 322 370 336 366 358S380 392 396 406S418 440 420 470" stroke-width="15"/></g>
<path d="M356.5 350.3V428.7M377.5 350.3V428.7M398.5 350.3V428.7M419.5 350.3V428.7M441.5 350.3V428.7M462.5 350.3V428.7M483.5 350.3V428.7M504.5 350.3V428.7M525.5 350.3V428.7M546.5 350.3V428.7M567.5 350.3V428.7M588.5 350.3V428.7M609.5 350.3V428.7M631.5 350.3V428.7M652.5 350.3V428.7M673.5 350.3V428.7M694.5 350.3V428.7M715.5 350.3V428.7M736.5 350.3V428.7M757.5 350.3V428.7M342.5 371.5H757.5M342.5 391.5H757.5M342.5 412.5H757.5" stroke="#000" stroke-width="1" stroke-dasharray="2 1.700" fill="none"/>
<polyline points="342.5,380.0 352.5,375.5 365.0,372.5 377.5,371.8 390.0,371.2 402.5,368.2 415.0,365.0 427.5,361.2 435.0,360.0 447.5,360.0 457.5,362.0 470.0,363.8 480.0,365.0 490.0,366.8 500.0,365.8 512.5,365.8 525.0,367.5 537.5,370.0 545.0,370.8 555.0,372.0 567.5,375.0 582.5,377.5 600.0,379.2 610.0,381.2 620.0,386.2 630.0,391.2 640.0,395.8 652.5,400.0 665.0,401.2 675.0,403.8 690.0,408.0 705.0,411.8 720.0,415.0 735.0,417.5 742.5,418.2 757.5,418.0" fill="none" stroke="#000" stroke-width="1.800" stroke-linejoin="round"/>
<rect x="342.5" y="350.3" width="415.0" height="78.4" fill="none" stroke="#000" stroke-width="1.150"/>
<text x="337.3" y="354.9" fill="#000" font-size="10.7" text-anchor="end">1035</text>
<text x="337.3" y="375.6" fill="#000" font-size="10.7" text-anchor="end">1030</text>
<text x="337.3" y="396.2" fill="#000" font-size="10.7" text-anchor="end">1025</text>
<text x="337.3" y="416.8" fill="#000" font-size="10.7" text-anchor="end">1020</text>
<text x="762" y="354.9" fill="#000" font-size="10.7">776</text>
<text x="762" y="375.6" fill="#000" font-size="10.7">772</text>
<text x="762" y="396.2" fill="#000" font-size="10.7">769</text>
<text x="762" y="416.8" fill="#000" font-size="10.7">765</text>
<text transform="translate(293.3 393) rotate(-90)" fill="#00008b" font-size="12" text-anchor="middle">ciśnienie</text>
<text transform="translate(305.8 393) rotate(-90)" fill="#00008b" font-size="12" text-anchor="middle">(hPa)</text>
<text transform="translate(803.3 393) rotate(-90)" fill="#00008b" font-size="12" text-anchor="middle">(mm Hg)</text>
<text transform="translate(816 393) rotate(-90)" fill="#00008b" font-size="12" text-anchor="middle">ciśnienie</text>
<clipPath id="wsc"><polygon points="342.5,501.2 350.0,498.2 356.0,499.5 365.0,501.2 377.5,503.8 397.5,503.8 412.5,501.2 425.0,498.2 435.0,497.5 440.0,498.8 450.0,497.5 462.5,495.5 470.0,496.2 480.0,496.2 490.0,497.5 497.5,496.8 510.0,498.0 525.0,503.2 535.0,502.5 545.0,500.5 555.0,497.5 567.5,498.2 575.0,500.8 588.8,503.8 596.2,503.0 605.0,503.8 616.2,506.8 623.8,505.8 631.2,503.2 638.8,503.2 651.2,501.2 658.8,505.5 666.2,505.0 673.8,506.2 680.0,503.8 687.5,503.0 695.0,504.5 701.2,504.5 708.8,503.2 716.2,505.0 730.0,506.8 750.0,507.0 757.5,509.5 757.5,514.8 342.5,514.8"/></clipPath>
<g clip-path="url(#wsc)"><rect x="342.5" y="480" width="415" height="40" fill="#00f6ff"/>
<rect x="349.5" y="480" width="7.1" height="40" fill="#00c6fa"/>
<rect x="420" y="480" width="91.5" height="40" fill="#00c6fa"/>
<rect x="532.5" y="480" width="35.1" height="40" fill="#00c6fa"/>
</g>
<path d="M356.5 437.7V514.8M377.5 437.7V514.8M398.5 437.7V514.8M419.5 437.7V514.8M441.5 437.7V514.8M462.5 437.7V514.8M483.5 437.7V514.8M504.5 437.7V514.8M525.5 437.7V514.8M546.5 437.7V514.8M567.5 437.7V514.8M588.5 437.7V514.8M609.5 437.7V514.8M631.5 437.7V514.8M652.5 437.7V514.8M673.5 437.7V514.8M694.5 437.7V514.8M715.5 437.7V514.8M736.5 437.7V514.8M757.5 437.7V514.8M342.5 438.5H757.5M342.5 453.5H757.5M342.5 468.5H757.5M342.5 484.5H757.5M342.5 499.5H757.5" stroke="#000" stroke-width="1" stroke-dasharray="2 1.700" fill="none"/>
<polyline points="342.5,501.2 350.0,498.2 356.0,499.5 365.0,501.2 377.5,503.8 397.5,503.8 412.5,501.2 425.0,498.2 435.0,497.5 440.0,498.8 450.0,497.5 462.5,495.5 470.0,496.2 480.0,496.2 490.0,497.5 497.5,496.8 510.0,498.0 525.0,503.2 535.0,502.5 545.0,500.5 555.0,497.5 567.5,498.2 575.0,500.8 588.8,503.8 596.2,503.0 605.0,503.8 616.2,506.8 623.8,505.8 631.2,503.2 638.8,503.2 651.2,501.2 658.8,505.5 666.2,505.0 673.8,506.2 680.0,503.8 687.5,503.0 695.0,504.5 701.2,504.5 708.8,503.2 716.2,505.0 730.0,506.8 750.0,507.0 757.5,509.5" fill="none" stroke="#0000a8" stroke-width="2" stroke-linejoin="round"/>
<path d="M342.5 473.5h7.04M349.5 470.5h7.04M356.6 473.5h7.04M363.6 476.5h7.04M370.6 477.5h7.04M377.7 483.5h7.04M384.7 485.5h7.04M391.8 482.5h7.04M398.8 479.5h7.04M405.8 479.5h7.04M412.9 474.5h7.04M419.9 466.5h7.04M426.9 463.5h7.04M434.0 461.5h7.04M441.0 461.5h7.04M448.1 459.5h7.04M455.1 457.5h7.04M462.1 457.5h7.04M469.2 458.5h7.04M476.2 458.5h7.04M483.2 460.5h7.04M490.3 465.5h7.04M497.3 462.5h7.04M504.4 462.5h7.04M511.4 470.5h7.04M518.4 477.5h7.04M525.5 485.5h7.04M532.5 483.5h7.04M539.5 469.5h7.04M546.6 466.5h7.04M553.6 466.5h7.04M560.6 465.5h7.04M567.7 467.5h7.04M574.7 472.5h7.04M581.8 478.5h7.04M588.8 475.5h7.04M595.8 472.5h7.04M602.9 472.5h7.04M609.9 472.5h7.04M616.9 473.5h7.04M624.0 470.5h7.04M631.0 469.5h7.04M638.1 467.5h7.04M645.1 469.5h7.04M652.1 477.5h7.04M659.2 490.5h7.04M666.2 496.5h7.04M673.2 496.5h7.04M680.3 493.5h7.04M687.3 491.5h7.04M694.4 491.5h7.04M701.4 491.5h7.04M708.4 490.5h7.04M715.5 488.5h7.04M722.5 489.5h7.04M729.5 491.5h7.04M736.6 488.5h7.04M743.6 485.5h7.04M750.6 484.5h7.04" stroke="#f00000" stroke-width="1" fill="none"/>
<rect x="342.5" y="437.7" width="415.0" height="77.1" fill="none" stroke="#000" stroke-width="1.150"/>
<text x="337.3" y="442.9" fill="#000" font-size="10.7" text-anchor="end">10</text>
<text x="337.3" y="458.1" fill="#000" font-size="10.7" text-anchor="end">8</text>
<text x="337.3" y="473.4" fill="#000" font-size="10.7" text-anchor="end">6</text>
<text x="337.3" y="488.7" fill="#000" font-size="10.7" text-anchor="end">4</text>
<text x="337.3" y="504.0" fill="#000" font-size="10.7" text-anchor="end">2</text>
<text x="337.3" y="519.2" fill="#000" font-size="10.7" text-anchor="end">0</text>
<text x="767.6" y="442.9" fill="#000" font-size="10.7" text-anchor="middle">36</text>
<text x="767.6" y="458.1" fill="#000" font-size="10.7" text-anchor="middle">29</text>
<text x="767.6" y="473.4" fill="#000" font-size="10.7" text-anchor="middle">22</text>
<text x="767.6" y="488.7" fill="#000" font-size="10.7" text-anchor="middle">14</text>
<text x="767.6" y="504.0" fill="#000" font-size="10.7" text-anchor="middle">7</text>
<text x="767.6" y="519.2" fill="#000" font-size="10.7" text-anchor="middle">0</text>
<text transform="translate(293.5 481) rotate(-90)" fill="#00008b" font-size="12" text-anchor="middle">wiatr</text>
<text transform="translate(305.8 481) rotate(-90)" fill="#00008b" font-size="12" text-anchor="middle">(m/s)</text>
<text transform="translate(803.3 481) rotate(-90)" fill="#00008b" font-size="12" text-anchor="middle">(km/h)</text>
<text transform="translate(816.2 481) rotate(-90)" fill="#00008b" font-size="12" text-anchor="middle">wiatr</text>
<path d="M356.5 522V552M377.5 522V552M398.5 522V552M419.5 522V552M441.5 522V552M462.5 522V552M483.5 522V552M504.5 522V552M525.5 522V552M546.5 522V552M567.5 522V552M588.5 522V552M609.5 522V552M631.5 522V552M652.5 522V552M673.5 522V552M694.5 522V552M715.5 522V552M736.5 522V552M757.5 522V552" stroke="#000" stroke-width="1" stroke-dasharray="2 1.700" fill="none"/>
<path d="M343.9 530.3L341.7 541.8" stroke="#00009a" stroke-width="1.400"/><polygon points="341.3,543.7 339.9,538.2 344.6,539.1" fill="#00009a"/><path d="M350.9 530.3L348.7 541.8" stroke="#00009a" stroke-width="1.400"/><polygon points="348.3,543.7 347.0,538.2 351.7,539.1" fill="#00009a"/><path d="M358.2 530.3L355.6 541.7" stroke="#00009a" stroke-width="1.400"/><polygon points="355.1,543.7 354.0,538.1 358.6,539.1" fill="#00009a"/><path d="M365.3 530.3L362.6 541.7" stroke="#00009a" stroke-width="1.400"/><polygon points="362.2,543.7 361.0,538.1 365.7,539.1" fill="#00009a"/><path d="M373.1 530.6L369.1 541.6" stroke="#00009a" stroke-width="1.400"/><polygon points="368.4,543.4 367.9,537.7 372.4,539.4" fill="#00009a"/><path d="M381.8 531.5L374.9 540.9" stroke="#00009a" stroke-width="1.400"/><polygon points="373.8,542.5 374.9,536.9 378.8,539.7" fill="#00009a"/><path d="M388.6 531.3L382.2 541.1" stroke="#00009a" stroke-width="1.400"/><polygon points="381.1,542.7 381.9,537.1 385.9,539.7" fill="#00009a"/><path d="M392.8 530.2L391.2 541.8" stroke="#00009a" stroke-width="1.400"/><polygon points="390.9,543.8 389.3,538.3 394.0,539.0" fill="#00009a"/><path d="M400.1 530.3L398.1 541.8" stroke="#00009a" stroke-width="1.400"/><polygon points="397.7,543.7 396.2,538.2 401.0,539.0" fill="#00009a"/><path d="M406.9 530.2L405.3 541.8" stroke="#00009a" stroke-width="1.400"/><polygon points="405.0,543.8 403.3,538.3 408.1,539.0" fill="#00009a"/><path d="M414.2 530.3L412.1 541.8" stroke="#00009a" stroke-width="1.400"/><polygon points="411.8,543.7 410.3,538.2 415.0,539.0" fill="#00009a"/><path d="M421.2 530.3L419.2 541.8" stroke="#00009a" stroke-width="1.400"/><polygon points="418.8,543.7 417.4,538.2 422.1,539.0" fill="#00009a"/><path d="M428.0 530.2L426.4 541.8" stroke="#00009a" stroke-width="1.400"/><polygon points="426.1,543.8 424.4,538.3 429.2,539.0" fill="#00009a"/><path d="M435.3 530.3L433.2 541.8" stroke="#00009a" stroke-width="1.400"/><polygon points="432.9,543.7 431.4,538.2 436.2,539.0" fill="#00009a"/><path d="M443.0 530.4L439.8 541.7" stroke="#00009a" stroke-width="1.400"/><polygon points="439.2,543.6 438.4,537.9 443.0,539.2" fill="#00009a"/><path d="M450.0 530.4L446.8 541.7" stroke="#00009a" stroke-width="1.400"/><polygon points="446.3,543.6 445.4,537.9 450.0,539.2" fill="#00009a"/><path d="M457.1 530.4L453.9 541.7" stroke="#00009a" stroke-width="1.400"/><polygon points="453.3,543.6 452.4,537.9 457.0,539.2" fill="#00009a"/><path d="M464.1 530.4L460.9 541.7" stroke="#00009a" stroke-width="1.400"/><polygon points="460.3,543.6 459.5,537.9 464.1,539.2" fill="#00009a"/><path d="M471.2 530.4L467.9 541.7" stroke="#00009a" stroke-width="1.400"/><polygon points="467.4,543.6 466.5,537.9 471.1,539.2" fill="#00009a"/><path d="M478.2 530.4L475.0 541.7" stroke="#00009a" stroke-width="1.400"/><polygon points="474.4,543.6 473.5,537.9 478.2,539.2" fill="#00009a"/><path d="M485.1 530.4L482.1 541.7" stroke="#00009a" stroke-width="1.400"/><polygon points="481.6,543.6 480.6,538.0 485.2,539.2" fill="#00009a"/><path d="M492.5 530.5L488.9 541.6" stroke="#00009a" stroke-width="1.400"/><polygon points="488.3,543.5 487.6,537.8 492.1,539.3" fill="#00009a"/><path d="M500.1 530.7L495.5 541.5" stroke="#00009a" stroke-width="1.400"/><polygon points="494.7,543.3 494.6,537.6 499.0,539.5" fill="#00009a"/><path d="M507.2 530.7L502.5 541.4" stroke="#00009a" stroke-width="1.400"/><polygon points="501.7,543.3 501.6,537.5 506.0,539.5" fill="#00009a"/><path d="M514.3 530.7L509.5 541.4" stroke="#00009a" stroke-width="1.400"/><polygon points="508.7,543.3 508.6,537.5 513.0,539.5" fill="#00009a"/><path d="M521.2 530.7L516.6 541.5" stroke="#00009a" stroke-width="1.400"/><polygon points="515.8,543.3 515.7,537.6 520.1,539.5" fill="#00009a"/><path d="M526.9 530.3L524.6 541.8" stroke="#00009a" stroke-width="1.400"/><polygon points="524.3,543.7 522.9,538.2 527.6,539.1" fill="#00009a"/><path d="M533.0 530.2L532.3 541.8" stroke="#00009a" stroke-width="1.400"/><polygon points="532.2,543.8 530.1,538.5 534.9,538.8" fill="#00009a"/><path d="M539.9 530.2L539.5 541.8" stroke="#00009a" stroke-width="1.400"/><polygon points="539.4,543.8 537.2,538.6 542.0,538.7" fill="#00009a"/><path d="M547.4 530.2L546.2 541.8" stroke="#00009a" stroke-width="1.400"/><polygon points="546.0,543.8 544.1,538.4 548.9,538.9" fill="#00009a"/><path d="M554.4 530.2L553.2 541.8" stroke="#00009a" stroke-width="1.400"/><polygon points="553.0,543.8 551.2,538.4 555.9,538.9" fill="#00009a"/><path d="M561.3 530.2L560.3 541.8" stroke="#00009a" stroke-width="1.400"/><polygon points="560.1,543.8 558.2,538.4 563.0,538.9" fill="#00009a"/><path d="M568.4 530.2L567.4 541.8" stroke="#00009a" stroke-width="1.400"/><polygon points="567.2,543.8 565.2,538.4 570.0,538.9" fill="#00009a"/><path d="M575.3 530.2L574.5 541.8" stroke="#00009a" stroke-width="1.400"/><polygon points="574.3,543.8 572.3,538.5 577.1,538.8" fill="#00009a"/><path d="M582.3 530.2L581.5 541.8" stroke="#00009a" stroke-width="1.400"/><polygon points="581.4,543.8 579.3,538.5 584.1,538.8" fill="#00009a"/><path d="M589.4 530.2L588.6 541.8" stroke="#00009a" stroke-width="1.400"/><polygon points="588.4,543.8 586.4,538.5 591.2,538.8" fill="#00009a"/><path d="M596.4 530.2L595.6 541.8" stroke="#00009a" stroke-width="1.400"/><polygon points="595.5,543.8 593.4,538.5 598.2,538.8" fill="#00009a"/><path d="M603.3 530.2L602.7 541.8" stroke="#00009a" stroke-width="1.400"/><polygon points="602.6,543.8 600.5,538.5 605.3,538.8" fill="#00009a"/><path d="M610.4 530.2L609.8 541.8" stroke="#00009a" stroke-width="1.400"/><polygon points="609.6,543.8 607.5,538.5 612.3,538.8" fill="#00009a"/><path d="M617.4 530.2L616.8 541.8" stroke="#00009a" stroke-width="1.400"/><polygon points="616.7,543.8 614.6,538.5 619.4,538.8" fill="#00009a"/><path d="M621.6 530.6L625.8 541.5" stroke="#00009a" stroke-width="1.400"/><polygon points="626.5,543.4 622.4,539.4 626.9,537.7" fill="#00009a"/><path d="M628.3 530.7L633.1 541.4" stroke="#00009a" stroke-width="1.400"/><polygon points="633.9,543.3 629.6,539.5 634.0,537.5" fill="#00009a"/><path d="M635.5 530.7L640.0 541.5" stroke="#00009a" stroke-width="1.400"/><polygon points="640.8,543.3 636.6,539.5 641.0,537.6" fill="#00009a"/><path d="M643.2 530.4L646.6 541.6" stroke="#00009a" stroke-width="1.400"/><polygon points="647.2,543.6 643.4,539.3 648.0,537.9" fill="#00009a"/><path d="M650.5 530.4L653.5 541.7" stroke="#00009a" stroke-width="1.400"/><polygon points="654.0,543.6 650.3,539.2 655.0,538.0" fill="#00009a"/><path d="M657.5 530.4L660.5 541.7" stroke="#00009a" stroke-width="1.400"/><polygon points="661.0,543.6 657.4,539.2 662.0,538.0" fill="#00009a"/><path d="M664.0 530.6L668.0 541.6" stroke="#00009a" stroke-width="1.400"/><polygon points="668.6,543.4 664.6,539.4 669.1,537.7" fill="#00009a"/><path d="M666.6 535.1L678.1 537.1" stroke="#00009a" stroke-width="1.400"/><polygon points="680.1,537.5 674.5,539.0 675.4,534.2" fill="#00009a"/><path d="M676.1 541.6L683.4 532.5" stroke="#00009a" stroke-width="1.400"/><polygon points="684.7,531.0 683.3,536.5 679.5,533.5" fill="#00009a"/><path d="M683.2 541.7L690.4 532.5" stroke="#00009a" stroke-width="1.400"/><polygon points="691.6,530.9 690.3,536.5 686.5,533.5" fill="#00009a"/><path d="M688.5 539.7L698.7 533.9" stroke="#00009a" stroke-width="1.400"/><polygon points="700.4,532.9 697.1,537.6 694.7,533.4" fill="#00009a"/><path d="M695.4 539.5L705.8 534.0" stroke="#00009a" stroke-width="1.400"/><polygon points="707.5,533.1 704.1,537.6 701.8,533.4" fill="#00009a"/><path d="M702.6 539.7L712.7 533.9" stroke="#00009a" stroke-width="1.400"/><polygon points="714.5,532.9 711.2,537.6 708.8,533.4" fill="#00009a"/><path d="M709.5 539.5L719.8 534.0" stroke="#00009a" stroke-width="1.400"/><polygon points="721.6,533.1 718.1,537.6 715.9,533.4" fill="#00009a"/><path d="M716.5 539.5L726.9 534.0" stroke="#00009a" stroke-width="1.400"/><polygon points="728.6,533.1 725.2,537.6 722.9,533.4" fill="#00009a"/><path d="M723.6 539.5L733.9 534.0" stroke="#00009a" stroke-width="1.400"/><polygon points="735.7,533.1 732.2,537.6 730.0,533.4" fill="#00009a"/><path d="M731.0 540.1L740.7 533.6" stroke="#00009a" stroke-width="1.400"/><polygon points="742.4,532.5 739.4,537.4 736.7,533.4" fill="#00009a"/><path d="M736.9 536.3L748.6 536.3" stroke="#00009a" stroke-width="1.400"/><polygon points="750.6,536.3 745.4,538.7 745.4,533.9" fill="#00009a"/><path d="M743.9 536.3L755.6 536.3" stroke="#00009a" stroke-width="1.400"/><polygon points="757.6,536.3 752.4,538.7 752.4,533.9" fill="#00009a"/><path d="M750.9 536.3L762.6 536.3" stroke="#00009a" stroke-width="1.400"/><polygon points="764.6,536.3 759.4,538.7 759.4,533.9" fill="#00009a"/>
<rect x="342.5" y="522" width="415.0" height="30.0" fill="none" stroke="#000" stroke-width="1.150"/>
<text x="298" y="531.5" fill="#00008b" font-size="11.6" text-anchor="middle">N</text>
<text x="298" y="547.5" fill="#00008b" font-size="11.6" text-anchor="middle">S</text>
<text x="289" y="539.2" fill="#00008b" font-size="11.6" text-anchor="middle">W</text>
<text x="305" y="539.2" fill="#00008b" font-size="11.6" text-anchor="middle">E</text>
<text x="807.4" y="531.5" fill="#00008b" font-size="11.6" text-anchor="middle">N</text>
<text x="807.4" y="547.5" fill="#00008b" font-size="11.6" text-anchor="middle">S</text>
<text x="798.4" y="539.2" fill="#00008b" font-size="11.6" text-anchor="middle">W</text>
<text x="814.4" y="539.2" fill="#00008b" font-size="11.6" text-anchor="middle">E</text>
<rect x="342.5" y="558.3" width="415" height="78.0" fill="#88d4fb"/>
<rect x="342.5" y="558.3" width="68.5" height="78.0" fill="#7cbfea"/>
<rect x="495.3" y="558.3" width="84.3" height="78.0" fill="#7cbfea"/>
<rect x="664.2" y="558.3" width="83.6" height="78.0" fill="#7cbfea"/>
<g clip-path="url(#rclip)"><circle cx="363.6" cy="630.5" r="2.800" fill="#fff"/><circle cx="370.6" cy="629.2" r="2.800" fill="#a51e1e"/><circle cx="370.6" cy="630.5" r="2.800" fill="#fff"/><circle cx="377.7" cy="628.2" r="2.800" fill="#a51e1e"/><circle cx="377.7" cy="630.8" r="2.800" fill="#fff"/><circle cx="384.7" cy="628.2" r="2.800" fill="#a51e1e"/><circle cx="384.7" cy="630.0" r="2.800" fill="#c9c9c9"/><circle cx="391.8" cy="628.2" r="2.800" fill="#a51e1e"/><circle cx="391.8" cy="629.5" r="2.800" fill="#8c8c8c"/><circle cx="398.8" cy="627.5" r="2.800" fill="#a51e1e"/><circle cx="398.8" cy="630.0" r="2.800" fill="#000"/><circle cx="405.8" cy="627.5" r="2.800" fill="#a51e1e"/><circle cx="405.8" cy="630.0" r="2.800" fill="#000"/><circle cx="412.9" cy="627.0" r="2.800" fill="#a51e1e"/><circle cx="412.9" cy="630.0" r="2.800" fill="#000"/><circle cx="419.9" cy="626.2" r="2.800" fill="#a51e1e"/><circle cx="419.9" cy="629.2" r="2.800" fill="#000"/><circle cx="426.9" cy="625.0" r="2.800" fill="#a51e1e"/><circle cx="426.9" cy="630.0" r="2.800" fill="#000"/><circle cx="434.0" cy="623.2" r="2.800" fill="#a51e1e"/><circle cx="434.0" cy="629.2" r="2.800" fill="#000"/><circle cx="441.0" cy="621.8" r="2.800" fill="#a51e1e"/><circle cx="441.0" cy="629.2" r="2.800" fill="#8c8c8c"/><circle cx="441.0" cy="625.8" r="2.800" fill="#000"/><circle cx="448.1" cy="620.0" r="2.800" fill="#a51e1e"/><circle cx="448.1" cy="628.2" r="2.800" fill="#fff"/><circle cx="448.1" cy="625.0" r="2.800" fill="#c9c9c9"/><circle cx="455.1" cy="623.8" r="2.800" fill="#fff"/><circle cx="462.1" cy="615.8" r="2.800" fill="#fff"/><circle cx="469.2" cy="611.0" r="2.800" fill="#a51e1e"/><circle cx="469.2" cy="612.0" r="2.800" fill="#fff"/><circle cx="476.2" cy="611.0" r="2.800" fill="#a51e1e"/><circle cx="476.2" cy="612.0" r="2.800" fill="#c9c9c9"/><circle cx="483.2" cy="610.5" r="2.800" fill="#a51e1e"/><circle cx="483.2" cy="614.2" r="2.800" fill="#fff"/><circle cx="490.3" cy="611.0" r="2.800" fill="#a51e1e"/><circle cx="490.3" cy="615.8" r="2.800" fill="#fff"/><circle cx="490.3" cy="613.0" r="2.800" fill="#c9c9c9"/><circle cx="497.3" cy="618.8" r="2.800" fill="#fff"/><circle cx="497.3" cy="611.8" r="2.800" fill="#000"/><circle cx="504.4" cy="610.0" r="2.800" fill="#a51e1e"/><circle cx="504.4" cy="618.8" r="2.800" fill="#fff"/><circle cx="504.4" cy="612.0" r="2.800" fill="#5a5a5a"/><circle cx="511.4" cy="611.2" r="2.800" fill="#a51e1e"/><circle cx="511.4" cy="616.8" r="2.800" fill="#fff"/><circle cx="511.4" cy="612.8" r="2.800" fill="#8c8c8c"/><circle cx="518.4" cy="617.0" r="2.800" fill="#fff"/><circle cx="525.5" cy="625.0" r="2.800" fill="#a51e1e"/><circle cx="525.5" cy="630.0" r="2.800" fill="#fff"/><circle cx="532.5" cy="625.0" r="2.800" fill="#a51e1e"/><circle cx="532.5" cy="629.5" r="2.800" fill="#8c8c8c"/><circle cx="539.5" cy="617.0" r="2.800" fill="#a51e1e"/><circle cx="539.5" cy="630.0" r="2.800" fill="#000"/><circle cx="546.6" cy="615.8" r="2.800" fill="#a51e1e"/><circle cx="546.6" cy="630.0" r="2.800" fill="#000"/><circle cx="553.6" cy="615.8" r="2.800" fill="#a51e1e"/><circle cx="553.6" cy="629.5" r="2.800" fill="#000"/><circle cx="560.6" cy="615.8" r="2.800" fill="#a51e1e"/><circle cx="560.6" cy="629.5" r="2.800" fill="#000"/><circle cx="567.7" cy="615.8" r="2.800" fill="#a51e1e"/><circle cx="567.7" cy="630.0" r="2.800" fill="#000"/><circle cx="574.7" cy="615.8" r="2.800" fill="#a51e1e"/><circle cx="574.7" cy="628.8" r="2.800" fill="#000"/><circle cx="581.8" cy="615.8" r="2.800" fill="#a51e1e"/><circle cx="581.8" cy="629.5" r="2.800" fill="#5a5a5a"/><circle cx="581.8" cy="627.5" r="2.800" fill="#000"/><circle cx="588.8" cy="615.8" r="2.800" fill="#a51e1e"/><circle cx="588.8" cy="630.0" r="2.800" fill="#8c8c8c"/><circle cx="588.8" cy="628.0" r="2.800" fill="#000"/><circle cx="595.8" cy="575.0" r="2.800" fill="#a51e1e"/><circle cx="595.8" cy="629.2" r="2.800" fill="#8c8c8c"/><circle cx="595.8" cy="626.8" r="2.800" fill="#000"/><circle cx="602.9" cy="574.2" r="2.800" fill="#a51e1e"/><circle cx="602.9" cy="628.8" r="2.800" fill="#8c8c8c"/><circle cx="602.9" cy="625.0" r="2.800" fill="#000"/><circle cx="609.9" cy="572.5" r="2.800" fill="#a51e1e"/><circle cx="609.9" cy="629.2" r="2.800" fill="#c9c9c9"/><circle cx="609.9" cy="627.5" r="2.800" fill="#8c8c8c"/><circle cx="609.9" cy="619.2" r="2.800" fill="#000"/><circle cx="616.9" cy="569.5" r="2.800" fill="#a51e1e"/><circle cx="616.9" cy="623.8" r="2.800" fill="#fff"/><circle cx="616.9" cy="619.2" r="2.800" fill="#8c8c8c"/><circle cx="624.0" cy="578.8" r="2.800" fill="#c9c9c9"/><circle cx="624.0" cy="569.5" r="2.800" fill="#a51e1e"/><circle cx="624.0" cy="619.2" r="2.800" fill="#fff"/><circle cx="631.0" cy="578.8" r="2.800" fill="#c9c9c9"/><circle cx="631.0" cy="569.5" r="2.800" fill="#a51e1e"/><circle cx="631.0" cy="615.8" r="2.800" fill="#fff"/><circle cx="638.1" cy="578.8" r="2.800" fill="#c9c9c9"/><circle cx="638.1" cy="570.5" r="2.800" fill="#a51e1e"/><circle cx="638.1" cy="614.2" r="2.800" fill="#fff"/><circle cx="645.1" cy="577.5" r="2.800" fill="#c9c9c9"/><circle cx="645.1" cy="571.8" r="2.800" fill="#a51e1e"/><circle cx="645.1" cy="614.2" r="2.800" fill="#fff"/><circle cx="652.1" cy="575.5" r="2.800" fill="#a51e1e"/><circle cx="652.1" cy="613.8" r="2.800" fill="#fff"/><circle cx="659.2" cy="575.0" r="2.800" fill="#a51e1e"/><circle cx="659.2" cy="613.2" r="2.800" fill="#fff"/><circle cx="666.2" cy="574.5" r="2.800" fill="#a51e1e"/><circle cx="666.2" cy="613.2" r="2.800" fill="#fff"/><circle cx="673.2" cy="582.5" r="2.800" fill="#c9c9c9"/><circle cx="673.2" cy="573.0" r="2.800" fill="#a51e1e"/><circle cx="673.2" cy="613.8" r="2.800" fill="#fff"/><circle cx="680.3" cy="572.0" r="2.800" fill="#a51e1e"/><circle cx="680.3" cy="593.2" r="2.800" fill="#fff"/><circle cx="680.3" cy="588.0" r="2.800" fill="#c9c9c9"/><circle cx="687.3" cy="572.0" r="2.800" fill="#a51e1e"/><circle cx="687.3" cy="594.5" r="2.800" fill="#fff"/><circle cx="687.3" cy="590.0" r="2.800" fill="#c9c9c9"/><circle cx="694.4" cy="572.5" r="2.800" fill="#a51e1e"/><circle cx="694.4" cy="591.2" r="2.800" fill="#c9c9c9"/><circle cx="694.4" cy="630.5" r="2.800" fill="#fff"/><circle cx="701.4" cy="572.0" r="2.800" fill="#a51e1e"/><circle cx="701.4" cy="602.5" r="2.800" fill="#c9c9c9"/><circle cx="708.4" cy="571.2" r="2.800" fill="#a51e1e"/><circle cx="708.4" cy="600.5" r="2.800" fill="#5a5a5a"/><circle cx="708.4" cy="630.0" r="2.800" fill="#fff"/><circle cx="715.5" cy="572.0" r="2.800" fill="#a51e1e"/><circle cx="715.5" cy="600.0" r="2.800" fill="#8c8c8c"/><circle cx="715.5" cy="597.5" r="2.800" fill="#000"/><circle cx="715.5" cy="630.5" r="2.800" fill="#fff"/><circle cx="722.5" cy="572.5" r="2.800" fill="#a51e1e"/><circle cx="722.5" cy="599.5" r="2.800" fill="#000"/><circle cx="722.5" cy="630.5" r="2.800" fill="#fff"/><circle cx="729.5" cy="573.2" r="2.800" fill="#a51e1e"/><circle cx="729.5" cy="610.0" r="2.800" fill="#c9c9c9"/><circle cx="729.5" cy="607.5" r="2.800" fill="#8c8c8c"/><circle cx="729.5" cy="599.5" r="2.800" fill="#000"/><circle cx="729.5" cy="630.5" r="2.800" fill="#fff"/><circle cx="736.6" cy="573.2" r="2.800" fill="#a51e1e"/><circle cx="736.6" cy="611.2" r="2.800" fill="#c9c9c9"/><circle cx="736.6" cy="607.5" r="2.800" fill="#8c8c8c"/><circle cx="736.6" cy="598.0" r="2.800" fill="#000"/><circle cx="736.6" cy="630.5" r="2.800" fill="#fff"/><circle cx="743.6" cy="574.5" r="2.800" fill="#a51e1e"/><circle cx="743.6" cy="610.5" r="2.800" fill="#c9c9c9"/><circle cx="743.6" cy="600.0" r="2.800" fill="#8c8c8c"/><circle cx="743.6" cy="596.8" r="2.800" fill="#000"/><circle cx="743.6" cy="630.5" r="2.800" fill="#fff"/><circle cx="750.6" cy="575.5" r="2.800" fill="#a51e1e"/><circle cx="750.6" cy="610.0" r="2.800" fill="#8c8c8c"/><circle cx="750.6" cy="606.2" r="2.800" fill="#000"/><circle cx="750.6" cy="630.5" r="2.800" fill="#fff"/><circle cx="757.7" cy="578.0" r="2.800" fill="#a51e1e"/><circle cx="757.7" cy="612.5" r="2.800" fill="#5a5a5a"/><circle cx="757.7" cy="610.5" r="2.800" fill="#000"/><circle cx="757.7" cy="631.0" r="2.800" fill="#fff"/></g>
<polyline points="342.5,576.2 355.0,578.2 370.0,585.0 377.5,591.2 381.2,607.5 385.0,623.8 390.0,631.2 397.5,633.8 412.5,633.2 416.2,615.0 420.0,595.5 426.2,595.5 433.8,593.0 441.2,579.5 447.5,576.2 462.5,573.8 476.2,572.5 483.8,573.2 490.0,574.5 497.5,577.0 505.0,576.2 512.5,576.2 518.8,580.0 525.0,581.2 532.5,587.5 540.0,593.8 542.5,610.0 545.0,628.0 546.2,630.0 547.5,620.0 553.8,588.8 561.2,586.8 567.5,589.2 575.0,587.0 581.8,580.8 588.8,583.8 596.2,579.5 602.5,575.0 610.0,573.2 631.2,572.5 645.0,573.0 652.5,574.5 660.0,577.5 667.5,582.0 673.8,586.2 681.2,590.0 687.5,592.0 695.0,593.0 701.2,592.5 715.0,593.0 730.0,594.5 736.2,595.0 743.8,591.8 750.0,592.5 757.5,592.5" fill="none" stroke="#ff9000" stroke-width="2" stroke-linejoin="round"/>
<path d="M356.5 558.3V636.3M377.5 558.3V636.3M398.5 558.3V636.3M419.5 558.3V636.3M441.5 558.3V636.3M462.5 558.3V636.3M483.5 558.3V636.3M504.5 558.3V636.3M525.5 558.3V636.3M546.5 558.3V636.3M567.5 558.3V636.3M588.5 558.3V636.3M609.5 558.3V636.3M631.5 558.3V636.3M652.5 558.3V636.3M673.5 558.3V636.3M694.5 558.3V636.3M715.5 558.3V636.3M736.5 558.3V636.3M757.5 558.3V636.3M342.5 577.5H757.5M342.5 597.5H757.5M342.5 616.5H757.5" stroke="#000" stroke-width="1" stroke-dasharray="2 1.700" fill="none"/>
<rect x="342.5" y="558.3" width="415.0" height="78.0" fill="none" stroke="#000" stroke-width="1.150"/>
<text x="337.3" y="562.2" fill="#000" font-size="10.7" text-anchor="end">15.0</text>
<text x="337.3" y="582.1" fill="#000" font-size="10.7" text-anchor="end">7.0</text>
<text x="337.3" y="601.5" fill="#000" font-size="10.7" text-anchor="end">2.0</text>
<text x="337.3" y="621.1" fill="#000" font-size="10.7" text-anchor="end">0.5</text>
<text x="337.3" y="639.6" fill="#000" font-size="10.7" text-anchor="end">0.0</text>
<text x="762" y="562.2" fill="#ff8c00" font-size="10.7">100</text>
<text x="762" y="582.1" fill="#ff8c00" font-size="10.7">20</text>
<text x="762" y="601.5" fill="#ff8c00" font-size="10.7">5</text>
<text x="762" y="621.1" fill="#ff8c00" font-size="10.7">1</text>
<text x="762" y="639.6" fill="#ff8c00" font-size="10.7">0</text>
<text transform="translate(293 594.2) rotate(-90)" fill="#00008b" font-size="12" text-anchor="middle">pion. rozciągł. chm.</text>
<text transform="translate(305.8 594.5) rotate(-90)" fill="#00008b" font-size="12" text-anchor="middle">(km)</text>
<text transform="translate(802.8 594.2) rotate(-90)" fill="#00008b" font-size="12" text-anchor="middle">(km)</text>
<text transform="translate(816 595.4) rotate(-90)" fill="#00008b" font-size="12" text-anchor="middle">widzialność</text>
<rect x="342.5" y="645" width="415" height="95.0" fill="#88d4fb"/>
<rect x="342.5" y="645" width="68.5" height="95.0" fill="#7cbfea"/>
<rect x="495.3" y="645" width="84.3" height="95.0" fill="#7cbfea"/>
<rect x="664.2" y="645" width="83.6" height="95.0" fill="#7cbfea"/>
<polygon points="543,662 545.500,654 548,648.500 553,646.200 560,646.200 566,648 571,647.200 578,646.200 596,646.200 600,648.500 604,655 607,662" fill="#555"/>
<polygon points="716,662 720,654 724,649 727.500,646 733,646.200 738,651.500 742,655 748,650 753,646.200 757.500,646 757.500,662" fill="#6e6e6e"/>
<path d="M721 662l6.500 -15.500l5 2l6 8l9.500 -9.500l5 -1" fill="none" stroke="#9a9a9a" stroke-width="1"/>
<path d="M391.500 660v-2M394.500 660v-4M399 660v-10M402.500 660v-5M406 660v-6.500M409.500 660v-3M413 660v-2" stroke="#ffa200" stroke-width="1.300"/>
<path d="M356.5 645V740M377.5 645V740M398.5 645V740M419.5 645V740M441.5 645V740M462.5 645V740M483.5 645V740M504.5 645V740M525.5 645V740M546.5 645V740M567.5 645V740M588.5 645V740M609.5 645V740M631.5 645V740M652.5 645V740M673.5 645V740M694.5 645V740M715.5 645V740M736.5 645V740M757.5 645V740" stroke="#000" stroke-width="1" stroke-dasharray="2 1.700" fill="none"/>
<rect x="342.5" y="645" width="415.0" height="95.0" fill="none" stroke="#000" stroke-width="1.150"/>
<text x="337.3" y="649.5" fill="#000" font-size="10.7" text-anchor="end">8</text>
<text x="762" y="649.5" fill="#ff8c00" font-size="10.7">1</text>
<text transform="translate(293.2 653.4) rotate(-90)" fill="#00008b" font-size="12" text-anchor="end">zachmurzenie</text>
<rect x="170" y="30" width="62" height="598" fill="#edf3fc"/><rect x="5" y="0" width="1.500" height="1.200" fill="#000"/>
<clipPath id="lclip"><rect x="135.5" y="0" width="110.0" height="660"/></clipPath>
<text x="164.2" y="51" fill="#000" font-size="11" text-anchor="middle">20</text>
<text x="204.5" y="51" fill="#000" font-size="11" text-anchor="middle">02</text>
<text x="245" y="51" fill="#000" font-size="11" text-anchor="middle">08</text>
<text x="164.2" y="615" fill="#000" font-size="11" text-anchor="middle">18</text>
<text x="204.5" y="615" fill="#000" font-size="11" text-anchor="middle">00</text>
<text x="245" y="615" fill="#000" font-size="11" text-anchor="middle">06</text>
<g clip-path="url(#lclip)">
<rect x="135.5" y="111.5" width="110.0" height="23.0" fill="#88d4fb"/>
<rect x="170" y="111.5" width="62" height="23.0" fill="#74b6ea"/>
<polygon points="135.5,87.7 142.9,90.4 156.6,96.8 170.3,102.3 184.9,106.0 205.1,106.9 226.1,107.8 233.4,110.5 245.8,105.1 245.8,115.1 233.4,122.4 226.1,118.8 205.1,116.9 184.9,116.0 170.3,113.3 156.6,107.4 142.9,102.3 135.5,101.4" fill="#fde6e0"/>
<polygon points="135.5,103.2 142.9,104.1 150.2,106.0 156.6,108.7 163.9,110.5 170.3,112.0 177.6,113.7 184.9,116.0 193.2,116.9 205.1,118.8 211.5,119.7 216.9,116.0 222.4,117.9 226.1,119.7 232.5,122.8 238.9,116.0 245.8,115.5 246.3,118.7 238.3,124.5 232.4,133.9 217.8,130.8 203.2,126.4 188.5,119.9 169.5,113.1 152.0,110.8 135.9,105.5" fill="#bfe5fb"/>
</g>
<path d="M142.5 57.5V134.5M163.5 57.5V134.5M184.5 57.5V134.5M205.5 57.5V134.5M226.5 57.5V134.5M135.5 59.5H245.5M135.5 77.5H245.5M135.5 94.5H245.5M135.5 111.5H245.5M135.5 129.5H245.5" stroke="#000" stroke-width="1" stroke-dasharray="2 2" fill="none" shape-rendering="crispEdges"/>
<path d="M142.9 68.5V74.9M149.8 78.2V95.0M156.6 87.3V99.6M163.9 96.8V107.8M170.7 101.4V115.1M177.6 103.2V118.8M184.6 106.9V120.6M191.3 107.4V124.3M198.3 107.8V126.1M205.4 109.1V127.9M212.4 109.6V129.4M219.3 110.0V130.7M226.5 111.1V132.5M233.4 111.5V132.5M240.4 106.0V120.6" stroke="#a52a2a" stroke-width="1" fill="none"/>
<polyline points="136.8,113.3 165.7,115.1 184.0,116.4 207.8,119.7 229.7,121.0 245.8,116.9" fill="none" stroke="#7650d4" stroke-width="2.400" stroke-dasharray="2.400 4.600"/>
<polyline points="135.5,103.2 142.9,104.1 150.2,106.0 156.6,108.7 163.9,110.5 170.3,112.0 177.6,113.7 184.9,116.0 193.2,116.9 205.1,118.8 211.5,119.7 216.9,116.0 222.4,117.9 226.1,119.7 232.5,122.8 238.9,116.0 245.8,115.5" fill="none" stroke="#0000f0" stroke-width="1.9"/>
<polyline points="135.5,99.2 142.9,99.6 150.2,101.4 156.6,104.1 163.9,107.8 170.3,110.5 177.6,112.4 184.9,113.3 193.2,113.7 205.1,114.2 215.1,115.1 226.1,116.0 233.4,119.7 238.9,116.0 245.8,111.5" fill="none" stroke="#f80000" stroke-width="2.1"/>
<rect x="135.5" y="57.5" width="110.0" height="77.0" fill="none" stroke="#000" stroke-width="1" shape-rendering="crispEdges"/>
<text x="128.5" y="64" fill="#000" font-size="11" text-anchor="end">30</text>
<text x="266.5" y="64" fill="#000" font-size="11" text-anchor="end">30</text>
<text x="128.5" y="81.2" fill="#000" font-size="11" text-anchor="end">20</text>
<text x="266.5" y="81.2" fill="#000" font-size="11" text-anchor="end">20</text>
<text x="128.5" y="98.6" fill="#000" font-size="11" text-anchor="end">10</text>
<text x="266.5" y="98.6" fill="#000" font-size="11" text-anchor="end">10</text>
<text x="128.5" y="115.2" fill="#000" font-size="11" text-anchor="end">0</text>
<text x="266.5" y="115.2" fill="#000" font-size="11" text-anchor="end">0</text>
<text x="128.5" y="133.2" fill="#000" font-size="11" text-anchor="end">-10</text>
<text x="266.5" y="133.2" fill="#000" font-size="11" text-anchor="end">-10</text>
<g clip-path="url(#lclip)">
<rect x="136.1" y="186.8" width="7.1" height="33.7" fill="#0b9a0b" shape-rendering="crispEdges"/>
<rect x="143.2" y="180.7" width="7.0" height="39.8" fill="#0b9a0b" shape-rendering="crispEdges"/>
<rect x="150.2" y="178.9" width="7.0" height="41.6" fill="#0b9a0b" shape-rendering="crispEdges"/>
<rect x="157.1" y="201.8" width="6.8" height="18.7" fill="#0b9a0b" shape-rendering="crispEdges"/>
<rect x="163.9" y="208.2" width="5.9" height="12.3" fill="#0b9a0b" shape-rendering="crispEdges"/>
<rect x="169.8" y="218.2" width="7.0" height="2.3" fill="#0b9a0b" shape-rendering="crispEdges"/>
<rect x="157.1" y="182.2" width="6.8" height="19.6" fill="#0a28d0" shape-rendering="crispEdges"/>
<rect x="163.9" y="205.1" width="5.9" height="3.1" fill="#0a28d0" shape-rendering="crispEdges"/>
</g>
<path d="M143.5 143.5V220.5M164.5 143.5V220.5M184.5 143.5V220.5M204.5 143.5V220.5M225.5 143.5V220.5M135.5 150.5H245.5M135.5 168.3H245.5M135.5 185.6H245.5M135.5 203H245.5" stroke="#000" stroke-width="1" stroke-dasharray="2 2" fill="none" shape-rendering="crispEdges"/>
<polyline points="139.6,165.2 139.6,186.8" fill="none" stroke="#10b010" stroke-width="1.2"/>
<polyline points="146.5,147.4 146.5,180.7" fill="none" stroke="#10b010" stroke-width="1.2"/>
<polyline points="153.5,147.4 153.5,178.9" fill="none" stroke="#10b010" stroke-width="1.2"/>
<polyline points="160.6,171.6 160.6,182.2" fill="none" stroke="#0a28d0" stroke-width="1.2"/>
<polyline points="135.5,173.4 139.2,170.7 143.8,168.8 147.4,162.4 151.1,157.9 156.6,155.1 163.9,152.9 171.2,152.4 184.0,152.4 189.5,149.6 193.2,148.7 198.7,149.3 205.1,154.2 211.5,155.5 218.8,152.4 225.2,150.0 229.7,150.5 237.1,154.8 242.6,160.6 245.8,165.2" fill="none" stroke="#e64a10" stroke-width="2.1"/>
<rect x="145" y="146" width="3" height="3" fill="#f00" shape-rendering="crispEdges"/>
<rect x="152" y="146" width="3" height="3" fill="#f00" shape-rendering="crispEdges"/>
<circle cx="139.6" cy="173.4" r="2.500" fill="#ffee00" stroke="#000" stroke-width="1"/>
<circle cx="146.5" cy="173.4" r="2.500" fill="#ff9a00" stroke="#000" stroke-width="1"/>
<circle cx="153.5" cy="173.4" r="2.500" fill="#f00000" stroke="#000" stroke-width="1"/>
<rect x="135.5" y="143.5" width="110.0" height="77.0" fill="none" stroke="#000" stroke-width="1" shape-rendering="crispEdges"/>
<path d="M137.500 219.800h4.500M147 219.800h2.500M151 219.800h4.500M158.500 219.800h4.500" stroke="#f00" stroke-width="1.400"/>
<text x="128.5" y="154.5" fill="#000" font-size="11" text-anchor="end">2.0</text>
<text x="128.5" y="172.3" fill="#000" font-size="11" text-anchor="end">1.5</text>
<text x="128.5" y="189.6" fill="#000" font-size="11" text-anchor="end">1.0</text>
<text x="128.5" y="207" fill="#000" font-size="11" text-anchor="end">0.5</text>
<text x="128.5" y="223.8" fill="#000" font-size="11" text-anchor="end">0.0</text>
<text x="254.5" y="154.5" fill="#e2501a" font-size="11" stroke="#e2501a" stroke-width="0.2">96</text>
<text x="254.5" y="172.3" fill="#e2501a" font-size="11" stroke="#e2501a" stroke-width="0.2">84</text>
<text x="254.5" y="189.6" fill="#e2501a" font-size="11" stroke="#e2501a" stroke-width="0.2">73</text>
<text x="254.5" y="207" fill="#e2501a" font-size="11" stroke="#e2501a" stroke-width="0.2">61</text>
<text x="254.5" y="223.8" fill="#e2501a" font-size="11" stroke="#e2501a" stroke-width="0.2">50</text>
<polygon points="135.5,260.2 142.9,259.3 149.3,253.8 157.5,249.3 163.9,248.9 170.7,245.2 176.7,247.8 184.0,249.6 192.3,253.5 225.2,253.8 231.6,256.6 238.9,260.6 245.8,264.8 245.5,306.5 135.5,306.5" fill="#ffff00"/>
<clipPath id="lpc"><polygon points="135.5,260.2 142.9,259.3 149.3,253.8 157.5,249.3 163.9,248.9 170.7,245.2 176.7,247.8 184.0,249.6 192.3,253.5 225.2,253.8 231.6,256.6 238.9,260.6 245.8,264.8 245.5,306.5 135.5,306.5"/></clipPath><rect x="164.8" y="228" width="5" height="80" fill="#ffd400" clip-path="url(#lpc)"/>
<path d="M143.5 229.5V306.5M164.5 229.5V306.5M184.5 229.5V306.5M204.5 229.5V306.5M225.5 229.5V306.5M135.5 231.3H245.5M135.5 254.2H245.5M135.5 278.2H245.5M135.5 301.4H245.5" stroke="#000" stroke-width="1" stroke-dasharray="2 2" fill="none" shape-rendering="crispEdges"/>
<polyline points="135.5,260.2 142.9,259.3 149.3,253.8 157.5,249.3 163.9,248.9 170.7,245.2 176.7,247.8 184.0,249.6 192.3,253.5 225.2,253.8 231.6,256.6 238.9,260.6 245.8,264.8" fill="none" stroke="#000" stroke-width="2"/>
<rect x="135.5" y="229.5" width="110.0" height="77.0" fill="none" stroke="#000" stroke-width="1" shape-rendering="crispEdges"/>
<text x="128.5" y="235.3" fill="#000" font-size="11" text-anchor="end">1018</text>
<text x="251.3" y="235.3" fill="#000" font-size="11">1018</text>
<text x="128.5" y="258.2" fill="#000" font-size="11" text-anchor="end">1016</text>
<text x="251.3" y="258.2" fill="#000" font-size="11">1016</text>
<text x="128.5" y="282.2" fill="#000" font-size="11" text-anchor="end">1014</text>
<text x="251.3" y="282.2" fill="#000" font-size="11">1014</text>
<text x="128.5" y="305.4" fill="#000" font-size="11" text-anchor="end">1012</text>
<text x="251.3" y="305.4" fill="#000" font-size="11">1012</text>
<clipPath id="lwc"><polygon points="135.5,365.4 142.9,369.0 150.2,371.8 163.9,373.6 173.0,374.9 184.0,375.4 196.8,373.6 226.1,373.0 233.4,370.5 240.7,369.4 245.8,369.4 245.5,392.5 135.5,392.5"/></clipPath><g clip-path="url(#lwc)">
<rect x="135.5" y="360" width="13.0" height="33" fill="#20c820"/>
<rect x="148.4" y="360" width="20.9" height="33" fill="#108020"/>
<rect x="169.0" y="360" width="28.0" height="33" fill="#004c8c"/>
<rect x="196.8" y="360" width="14.3" height="33" fill="#108020"/>
<rect x="210.9" y="360" width="15.0" height="33" fill="#004c8c"/>
<rect x="225.7" y="360" width="13.4" height="33" fill="#108020"/>
<rect x="238.9" y="360" width="7.5" height="33" fill="#20c820"/>
</g>
<path d="M143.5 315.5V392.5M164.5 315.5V392.5M184.5 315.5V392.5M204.5 315.5V392.5M225.5 315.5V392.5M135.5 334.3H245.5M135.5 354H245.5M135.5 373.6H245.5" stroke="#000" stroke-width="1" stroke-dasharray="2 2" fill="none" shape-rendering="crispEdges"/>
<polyline points="135.5,365.4 142.9,369.0 150.2,371.8 163.9,373.6 173.0,374.9 184.0,375.4 196.8,373.6 226.1,373.0 233.4,370.5 240.7,369.4 245.8,369.4" fill="none" stroke="#0000a0" stroke-width="2.2"/>
<path d="M141.6 340.3H148.9M148.4 347.4H155.1M155.1 348.4H162.1M162.1 351.3H169.4M169.4 355.3H176.7M176.3 358.6H184.4M183.1 354.4H189.5M189.5 351.3H197.7M197.7 350.2H211.5M211.5 351.3H226.1M226.1 347.4H232.5M232.5 343.4H238.9M238.9 342.5H245.8" stroke="#f00000" stroke-width="1.200" fill="none"/>
<rect x="137" y="316" width="2.500" height="2.500" fill="#f00"/>
<rect x="135.5" y="315.5" width="110.0" height="77.0" fill="none" stroke="#000" stroke-width="1" shape-rendering="crispEdges"/>
<text x="128.5" y="318.7" fill="#000" font-size="11" text-anchor="end">20</text>
<text x="256.5" y="318.7" fill="#000" font-size="11" text-anchor="middle">72</text>
<text x="128.5" y="338.3" fill="#000" font-size="11" text-anchor="end">15</text>
<text x="256.5" y="338.3" fill="#000" font-size="11" text-anchor="middle">54</text>
<text x="128.5" y="358" fill="#000" font-size="11" text-anchor="end">10</text>
<text x="256.5" y="358" fill="#000" font-size="11" text-anchor="middle">36</text>
<text x="128.5" y="377.6" fill="#000" font-size="11" text-anchor="end">5</text>
<text x="256.5" y="377.6" fill="#000" font-size="11" text-anchor="middle">18</text>
<text x="128.5" y="395.5" fill="#000" font-size="11" text-anchor="end">0</text>
<text x="256.5" y="395.5" fill="#000" font-size="11" text-anchor="middle">0</text>
<path d="M143.5 398.5V430.5M164.5 398.5V430.5M184.5 398.5V430.5M204.5 398.5V430.5M225.5 398.5V430.5" stroke="#000" stroke-width="1" stroke-dasharray="2 2" fill="none" shape-rendering="crispEdges"/>
<clipPath id="l5c"><rect x="135.5" y="395" width="130" height="40"/></clipPath><g clip-path="url(#l5c)"><polygon points="139.2,424.8 133.6,419.4 140.0,417.1" fill="#00009a"/><path d="M139.3 405.8L145.1 422.0" stroke="#00009a" stroke-width="1.300"/><polygon points="146.1,424.8 140.6,419.4 147.0,417.1" fill="#00009a"/><path d="M146.2 405.8L152.0 422.0" stroke="#00009a" stroke-width="1.300"/><polygon points="153.0,424.8 147.5,419.4 153.9,417.1" fill="#00009a"/><path d="M153.2 405.8L158.9 422.0" stroke="#00009a" stroke-width="1.300"/><polygon points="160.0,424.8 154.4,419.4 160.8,417.1" fill="#00009a"/><path d="M160.1 405.8L165.9 422.0" stroke="#00009a" stroke-width="1.300"/><polygon points="166.9,424.8 161.3,419.4 167.7,417.1" fill="#00009a"/><path d="M167.0 405.8L172.8 422.0" stroke="#00009a" stroke-width="1.300"/><polygon points="173.8,424.8 168.2,419.4 174.6,417.1" fill="#00009a"/><path d="M173.9 405.8L179.7 422.0" stroke="#00009a" stroke-width="1.300"/><polygon points="180.7,424.8 175.2,419.4 181.6,417.1" fill="#00009a"/><path d="M180.8 405.8L186.6 422.0" stroke="#00009a" stroke-width="1.300"/><polygon points="187.6,424.8 182.1,419.4 188.5,417.1" fill="#00009a"/><path d="M187.8 405.8L193.5 422.0" stroke="#00009a" stroke-width="1.300"/><polygon points="194.6,424.8 189.0,419.4 195.4,417.1" fill="#00009a"/><path d="M194.7 405.8L200.5 422.0" stroke="#00009a" stroke-width="1.300"/><polygon points="201.5,424.8 195.9,419.4 202.3,417.1" fill="#00009a"/><path d="M201.6 405.8L207.4 422.0" stroke="#00009a" stroke-width="1.300"/><polygon points="208.4,424.8 202.8,419.4 209.2,417.1" fill="#00009a"/><path d="M208.5 405.8L214.3 422.0" stroke="#00009a" stroke-width="1.300"/><polygon points="215.3,424.8 209.8,419.4 216.2,417.1" fill="#00009a"/><path d="M215.4 405.8L221.2 422.0" stroke="#00009a" stroke-width="1.300"/><polygon points="222.2,424.8 216.7,419.4 223.1,417.1" fill="#00009a"/><path d="M222.4 405.8L228.1 422.0" stroke="#00009a" stroke-width="1.300"/><polygon points="229.2,424.8 223.6,419.4 230.0,417.1" fill="#00009a"/><path d="M229.3 405.8L235.1 422.0" stroke="#00009a" stroke-width="1.300"/><polygon points="236.1,424.8 230.5,419.4 236.9,417.1" fill="#00009a"/><path d="M236.2 405.8L242.0 422.0" stroke="#00009a" stroke-width="1.300"/><polygon points="243.0,424.8 237.4,419.4 243.8,417.1" fill="#00009a"/><path d="M243.1 405.8L248.9 422.0" stroke="#00009a" stroke-width="1.300"/><polygon points="249.9,424.8 244.4,419.4 250.8,417.1" fill="#00009a"/></g>
<rect x="135.5" y="398.5" width="110.0" height="32.0" fill="none" stroke="#000" stroke-width="1" shape-rendering="crispEdges"/>
<rect x="135.5" y="436.5" width="110.0" height="78.0" fill="#88d4fb"/>
<rect x="170" y="436.5" width="62" height="78.0" fill="#7fc4ee"/>
<g clip-path="url(#lclip)"><circle cx="170.9" cy="492.2" r="2.600" fill="#fff"/><circle cx="177.6" cy="492.6" r="2.600" fill="#fff"/><circle cx="198.3" cy="492.2" r="2.600" fill="#fff"/><circle cx="204.7" cy="492.6" r="2.600" fill="#fff"/><circle cx="211.5" cy="492.2" r="2.600" fill="#fff"/><circle cx="150.2" cy="500.4" r="2.600" fill="#fff"/><circle cx="164.3" cy="499.1" r="2.600" fill="#fff"/><circle cx="143.8" cy="505.0" r="2.600" fill="#fff"/><circle cx="191.3" cy="500.1" r="2.600" fill="#fff"/><circle cx="184.4" cy="509.6" r="2.600" fill="#fff"/><circle cx="218.4" cy="509.6" r="2.600" fill="#fff"/><circle cx="225.5" cy="509.6" r="2.600" fill="#fff"/><circle cx="232.5" cy="509.6" r="2.600" fill="#fff"/><circle cx="239.4" cy="509.6" r="2.600" fill="#fff"/><circle cx="245.8" cy="500.4" r="2.600" fill="#fff"/><circle cx="170.9" cy="489.4" r="2.600" fill="#c9c9c9"/><circle cx="198.3" cy="489.4" r="2.600" fill="#c9c9c9"/><circle cx="211.5" cy="489.4" r="2.600" fill="#c9c9c9"/><circle cx="136.8" cy="505.0" r="2.600" fill="#c9c9c9"/><circle cx="218.4" cy="499.9" r="2.600" fill="#c9c9c9"/><circle cx="225.5" cy="499.9" r="2.600" fill="#c9c9c9"/><circle cx="239.4" cy="499.9" r="2.600" fill="#c9c9c9"/><circle cx="191.3" cy="492.2" r="2.600" fill="#c9c9c9"/><circle cx="177.6" cy="488.9" r="2.600" fill="#8c8c8c"/><circle cx="198.3" cy="484.9" r="2.600" fill="#8c8c8c"/><circle cx="211.5" cy="484.9" r="2.600" fill="#8c8c8c"/><circle cx="143.8" cy="499.9" r="2.600" fill="#8c8c8c"/><circle cx="239.4" cy="494.0" r="2.600" fill="#8c8c8c"/><circle cx="232.5" cy="499.9" r="2.600" fill="#8c8c8c"/><circle cx="245.8" cy="481.2" r="2.600" fill="#8c8c8c"/><circle cx="143.8" cy="481.2" r="2.600" fill="#5a5a5a"/><circle cx="150.2" cy="492.2" r="2.600" fill="#5a5a5a"/><circle cx="157.1" cy="492.2" r="2.600" fill="#5a5a5a"/><circle cx="164.3" cy="492.2" r="2.600" fill="#5a5a5a"/><circle cx="191.3" cy="488.9" r="2.600" fill="#5a5a5a"/><circle cx="184.4" cy="500.4" r="2.600" fill="#5a5a5a"/><circle cx="184.4" cy="504.1" r="2.600" fill="#5a5a5a"/><circle cx="218.4" cy="488.9" r="2.600" fill="#5a5a5a"/><circle cx="211.5" cy="481.2" r="2.600" fill="#5a5a5a"/><circle cx="225.5" cy="492.2" r="2.600" fill="#5a5a5a"/><circle cx="232.5" cy="493.1" r="2.600" fill="#5a5a5a"/><circle cx="198.3" cy="468.4" r="2.600" fill="#5a5a5a"/><circle cx="191.3" cy="456.5" r="2.600" fill="#000"/><circle cx="198.3" cy="463.8" r="2.600" fill="#000"/><circle cx="204.5" cy="468.0" r="2.600" fill="#000"/><circle cx="211.5" cy="469.3" r="2.600" fill="#000"/><circle cx="218.4" cy="480.9" r="2.600" fill="#000"/><circle cx="225.5" cy="484.5" r="2.600" fill="#000"/><circle cx="232.5" cy="488.9" r="2.600" fill="#000"/><circle cx="184.4" cy="488.9" r="2.600" fill="#000"/><circle cx="239.4" cy="481.2" r="2.600" fill="#000"/><circle cx="245.8" cy="475.7" r="2.600" fill="#000"/><circle cx="136.8" cy="474.8" r="2.600" fill="#a51e1e"/><circle cx="143.8" cy="474.8" r="2.600" fill="#a51e1e"/><circle cx="150.2" cy="458.4" r="2.600" fill="#a51e1e"/><circle cx="157.1" cy="458.4" r="2.600" fill="#a51e1e"/><circle cx="164.3" cy="459.3" r="2.600" fill="#a51e1e"/><circle cx="170.9" cy="451.0" r="2.600" fill="#a51e1e"/><circle cx="177.6" cy="449.2" r="2.600" fill="#a51e1e"/><circle cx="184.4" cy="449.2" r="2.600" fill="#a51e1e"/><circle cx="191.3" cy="449.2" r="2.600" fill="#a51e1e"/><circle cx="198.3" cy="451.0" r="2.600" fill="#a51e1e"/><circle cx="204.7" cy="448.8" r="2.600" fill="#a51e1e"/><circle cx="211.5" cy="449.2" r="2.600" fill="#a51e1e"/><circle cx="218.4" cy="449.2" r="2.600" fill="#a51e1e"/><circle cx="225.5" cy="448.8" r="2.600" fill="#a51e1e"/><circle cx="232.5" cy="449.2" r="2.600" fill="#a51e1e"/><circle cx="239.4" cy="449.2" r="2.600" fill="#a51e1e"/><circle cx="245.8" cy="448.8" r="2.600" fill="#a51e1e"/></g>
<polyline points="135.5,470.6 142.9,470.2 147.4,466.6 156.6,463.8 178.5,463.5 185.8,466.6 196.8,470.6 205.1,471.2 215.1,473.9 226.1,474.3 234.3,473.0 245.8,469.3" fill="none" stroke="#ff9000" stroke-width="2"/>
<path d="M143.5 436.5V514.5M164.5 436.5V514.5M184.5 436.5V514.5M204.5 436.5V514.5M225.5 436.5V514.5M135.5 456.2H245.5M135.5 475.2H245.5M135.5 494.9H245.5" stroke="#000" stroke-width="1" stroke-dasharray="2 2" fill="none" shape-rendering="crispEdges"/>
<rect x="135.5" y="436.5" width="110.0" height="78.0" fill="none" stroke="#000" stroke-width="1" shape-rendering="crispEdges"/>
<text x="128.5" y="440.8" fill="#000" font-size="11" text-anchor="end">15.0</text>
<text x="251.7" y="440.8" fill="#ff8c00" font-size="11" stroke="#ff8c00" stroke-width="0.2">100</text>
<text x="128.5" y="460.2" fill="#000" font-size="11" text-anchor="end">7.0</text>
<text x="251.7" y="460.2" fill="#ff8c00" font-size="11" stroke="#ff8c00" stroke-width="0.2">20</text>
<text x="128.5" y="479.2" fill="#000" font-size="11" text-anchor="end">2.0</text>
<text x="251.7" y="479.2" fill="#ff8c00" font-size="11" stroke="#ff8c00" stroke-width="0.2">5</text>
<text x="128.5" y="498.9" fill="#000" font-size="11" text-anchor="end">0.5</text>
<text x="251.7" y="498.9" fill="#ff8c00" font-size="11" stroke="#ff8c00" stroke-width="0.2">1</text>
<text x="128.5" y="517.5" fill="#000" font-size="11" text-anchor="end">0.0</text>
<text x="251.7" y="517.5" fill="#ff8c00" font-size="11" stroke="#ff8c00" stroke-width="0.2">0</text>
<rect x="135.5" y="523.5" width="110.0" height="78.0" fill="#88d4fb"/>
<rect x="170" y="523.5" width="62" height="78.0" fill="#7fc4ee"/>
<g clip-path="url(#lclip)">
<polygon points="165.9,588.2 169.5,579.5 173.9,570.7 179.8,564.8 184.9,563.4 187.8,554.6 191.5,548.0 195.9,545.1 203.2,544.3 206.1,538.5 209.0,531.2 213.4,526.0 220.7,524.1 232.4,524.1 232.4,601.4 165.9,601.4" fill="#fff"/>
<polygon points="192.9,576.5 194.4,554.6 196.6,540.0 197.6,531.2 203.2,532.6 206.1,533.4 209.8,529.0 214.9,526.5 223.7,524.6 232.4,524.1 246.3,524.1 246.3,601.4 192.9,601.4" fill="#999"/>
<polygon points="135.6,576.5 143.2,563.4 149.0,576.5 154.9,582.4 161.5,585.3 165.1,586.8 166.6,589.7 176.8,592.6 180.5,579.5 184.1,568.5 191.5,569.2 192.9,573.6 198.8,586.8 204.6,595.6 209.8,588.2 213.4,573.6 217.8,547.3 222.2,537.0 226.6,534.8 232.4,540.0 238.3,550.2 242.7,561.9 246.3,567.8 246.3,601.4 135.6,601.4" fill="#585858"/>
<polygon points="138.8,601.4 149.0,590.4 163.7,600.0 164.4,601.4" fill="#383632"/>
<polyline points="195.9,545.1 203.2,544.3 206.1,538.5 209.0,531.2 213.4,526.0 220.7,524.1 232.4,524.1 235.4,529.7 239.8,537.0 245.6,543.6" fill="none" stroke="#fff" stroke-width="1"/>
<polyline points="135.6,588.2 141.7,594.1 149.0,599.2 154.1,600.7" fill="none" stroke="#9a9a9a" stroke-width=".8"/>
<polyline points="165.1,600.0 166.6,589.7" fill="none" stroke="#fff" stroke-width="1"/>
<polyline points="184.9,601.4 188.5,586.8 192.9,573.6" fill="none" stroke="#bdbdbd" stroke-width=".8"/>
</g>
<path d="M143.5 523.5V601.5M164.5 523.5V601.5M184.5 523.5V601.5M204.5 523.5V601.5M225.5 523.5V601.5M135.5 543.4H245.5M135.5 562.2H245.5M135.5 582.3H245.5" stroke="#000" stroke-width="1" stroke-dasharray="2 2" fill="none" shape-rendering="crispEdges"/>
<rect x="217.1" y="589.7" width="2.700" height="11.8" fill="#ffb400"/>
<rect x="223.7" y="589.7" width="2.700" height="11.8" fill="#ffb400"/>
<rect x="230.6" y="589.7" width="2.700" height="11.8" fill="#ffb400"/>
<rect x="237.6" y="589.7" width="2.700" height="11.8" fill="#ffb400"/>
<rect x="135.5" y="523.5" width="110.0" height="78.0" fill="none" stroke="#000" stroke-width="1" shape-rendering="crispEdges"/>
<text x="128.5" y="528.5" fill="#000" font-size="11" text-anchor="end">8</text>
<text x="251.7" y="528.5" fill="#ff8c00" font-size="11" stroke="#ff8c00" stroke-width="0.2">1</text>
<text x="128.5" y="547.4" fill="#000" font-size="11" text-anchor="end">6</text>
<text x="251.7" y="547.4" fill="#ff8c00" font-size="11" stroke="#ff8c00" stroke-width="0.2">0.75</text>
<text x="128.5" y="566.2" fill="#000" font-size="11" text-anchor="end">4</text>
<text x="251.7" y="566.2" fill="#ff8c00" font-size="11" stroke="#ff8c00" stroke-width="0.2">0.5</text>
<text x="128.5" y="586.3" fill="#000" font-size="11" text-anchor="end">2</text>
<text x="251.7" y="586.3" fill="#ff8c00" font-size="11" stroke="#ff8c00" stroke-width="0.2">0.25</text>
<text x="128.5" y="603.8" fill="#000" font-size="11" text-anchor="end">0</text>
<text x="251.7" y="603.8" fill="#ff8c00" font-size="11" stroke="#ff8c00" stroke-width="0.2">0</text>
<text x="5.5" y="18" fill="#000" font-size="10.6">Czas lokalny</text>
<text x="5.5" y="29.2" fill="#000" font-size="10.6" textLength="54.5" lengthAdjust="spacingAndGlyphs">(CET/CEST)</text>
<polyline points="68.5,16.5 132.5,16.5 157.5,46.5" fill="none" stroke="#000" stroke-width="1"/>
<text x="6" y="45.8" fill="#a52a2a" font-size="10.6" stroke="#a52a2a" stroke-width="0.2">Temperatura gruntu</text>
<text x="27.5" y="55.3" fill="#a52a2a" font-size="10.6" stroke="#a52a2a" stroke-width="0.2">max/min</text>
<polyline points="102.5,44.5 118.5,44.5 150.5,86.5" fill="none" stroke="#a52a2a" stroke-width="1"/>
<text x="5.5" y="67.5" fill="#000" font-size="10.6">Temperatura:</text>
<text x="12.5" y="79.5" fill="#f00000" font-size="10.6" textLength="77.5" lengthAdjust="spacingAndGlyphs" stroke="#f00000" stroke-width="0.2">punkt środkowy</text>
<polyline points="92.5,76.5 113.5,76.5" fill="none" stroke="#f00000" stroke-width="1"/>
<polyline points="130.5,76.5 134.5,77.5 152.5,99.5" fill="none" stroke="#f00000" stroke-width="1"/>
<text x="27.5" y="89.5" fill="#fbd3c8" font-size="10.6">max/min</text>
<text x="9.5" y="101.3" fill="#0000f4" font-size="10.6" textLength="57.5" lengthAdjust="spacingAndGlyphs" stroke="#0000f4" stroke-width="0.2">odczuwana</text>
<polyline points="70.5,98.5 129.5,98.5 133.5,100.5 136.5,103.5" fill="none" stroke="#0000f4" stroke-width="1"/>
<text x="27.5" y="111.3" fill="#aee0fb" font-size="10.6">max/min</text>
<text x="6" y="123.8" fill="#6a5acd" font-size="10.6" textLength="86" lengthAdjust="spacingAndGlyphs" stroke="#6a5acd" stroke-width="0.2">Temp. punktu rosy</text>
<polyline points="95.5,120.5 128.5,120.5 134.5,118.5 141.5,112.5" fill="none" stroke="#6a5acd" stroke-width="1"/>
<text x="5.5" y="140.3" fill="#f00000" font-size="10.6" textLength="94.5" lengthAdjust="spacingAndGlyphs" stroke="#f00000" stroke-width="0.2">Opad powyżej skali</text>
<polyline points="103.5,137.5 140.5,137.5 146.5,146.5" fill="none" stroke="#f00000" stroke-width="1"/>
<text x="6" y="154.2" fill="#e0501c" font-size="10.6" textLength="96" lengthAdjust="spacingAndGlyphs" stroke="#e0501c" stroke-width="0.2">Wilgotność względna</text>
<polyline points="105.5,151.5 110.5,151.5" fill="none" stroke="#e0501c" stroke-width="1"/>
<polyline points="129.5,151.5 133.5,152.5 146.5,163.5" fill="none" stroke="#e0501c" stroke-width="1"/>
<text x="5.5" y="168.8" fill="#000" font-size="10.6" textLength="84.5" lengthAdjust="spacingAndGlyphs">Wystąpienie burzy</text>
<polyline points="95.5,166.5 113.5,166.5" fill="none" stroke="#000" stroke-width="1"/>
<polyline points="129.5,166.5 133.5,167.5 138.5,172.5" fill="none" stroke="#000" stroke-width="1"/>
<text x="5.5" y="182.5" fill="#10a810" font-size="10.6" stroke="#10a810" stroke-width="0.2">Deszcz:</text>
<text x="48.8" y="182.5" fill="#10a810" font-size="10.6" stroke="#10a810" stroke-width="0.2">max</text>
<polyline points="70.5,179.5 139.5,179.5" fill="none" stroke="#10a810" stroke-width="1"/>
<text x="48.8" y="193.3" fill="#10a810" font-size="10.6" stroke="#10a810" stroke-width="0.2">średni</text>
<polyline points="80.5,190.5 136.5,190.5" fill="none" stroke="#10a810" stroke-width="1"/>
<text x="5.5" y="204.5" fill="#0a28d0" font-size="10.6" stroke="#0a28d0" stroke-width="0.2">Śnieg:</text>
<text x="48.8" y="204.5" fill="#0a28d0" font-size="10.6" stroke="#0a28d0" stroke-width="0.2">max</text>
<polyline points="70.5,201.5 112.5,201.5" fill="none" stroke="#0a28d0" stroke-width="1"/>
<polyline points="129.5,202.5 132.5,202.5 160.5,171.5" fill="none" stroke="#0a28d0" stroke-width="1"/>
<text x="48.8" y="215" fill="#0a28d0" font-size="10.6" stroke="#0a28d0" stroke-width="0.2">średni</text>
<polyline points="82.5,212.5 131.5,212.5 158.5,186.5" fill="none" stroke="#0a28d0" stroke-width="1"/>
<text x="5.5" y="227.5" fill="#f00000" font-size="10.6" stroke="#f00000" stroke-width="0.2">Wystąpienie opadu</text>
<text x="5.5" y="239.5" fill="#f00000" font-size="10.6" stroke="#f00000" stroke-width="0.2">konwekcyjnego</text>
<polyline points="97.5,225.5 143.5,225.5 147.5,220.5" fill="none" stroke="#f00000" stroke-width="1"/>
<text x="5" y="266.9" fill="#000" font-size="10.6">Ciśnienie</text>
<text x="5" y="279.6" fill="#000" font-size="10.6" textLength="66" lengthAdjust="spacingAndGlyphs">zredukowane</text>
<text x="5" y="292.3" fill="#000" font-size="10.6" textLength="87" lengthAdjust="spacingAndGlyphs">do poziomu morza</text>
<polyline points="51.5,264.5 128.5,264.5 135.5,261.5" fill="none" stroke="#000" stroke-width="1"/>
<text x="5.5" y="321.3" fill="#000" font-size="10.6">Wiatr na 10m:</text>
<text x="9.5" y="337" fill="#f00000" font-size="10.6" textLength="100.5" lengthAdjust="spacingAndGlyphs" stroke="#f00000" stroke-width="0.2">poryw powyżej skali</text>
<polyline points="112.5,333.5 117.5,333.5" fill="none" stroke="#f00000" stroke-width="1"/>
<polyline points="129.5,333.5 131.5,333.5 138.5,318.5" fill="none" stroke="#f00000" stroke-width="1"/>
<text x="9.5" y="350.5" fill="#f00000" font-size="10.6" textLength="94" lengthAdjust="spacingAndGlyphs" stroke="#f00000" stroke-width="0.2">max porywy wiatru</text>
<polyline points="105.5,348.5 128.5,348.5 136.5,345.5 143.5,340.5" fill="none" stroke="#f00000" stroke-width="1"/>
<text x="9.5" y="371.3" fill="#000090" font-size="10.6" textLength="78.5" lengthAdjust="spacingAndGlyphs" stroke="#000090" stroke-width="0.2">prędkość wiatru</text>
<text x="9.5" y="383.8" fill="#000090" font-size="10.6" textLength="88.5" lengthAdjust="spacingAndGlyphs" stroke="#000090" stroke-width="0.2">w środku obszaru</text>
<polyline points="92.5,367.5 135.5,367.5" fill="none" stroke="#000090" stroke-width="1"/>
<text x="9.5" y="412" fill="#000090" font-size="10.6" textLength="73.5" lengthAdjust="spacingAndGlyphs" stroke="#000090" stroke-width="0.2">kierunek wiatru</text>
<polyline points="86.5,409.5 140.5,409.5" fill="none" stroke="#000090" stroke-width="1"/>
<text x="5.5" y="432" fill="#a52a2a" font-size="10.6" stroke="#a52a2a" stroke-width="0.2">Wierzchołek chmur</text>
<polyline points="100.5,430.5 129.5,430.5 184.5,446.5" fill="none" stroke="#a52a2a" stroke-width="1"/>
<text x="5.5" y="447" fill="#000" font-size="10.6" textLength="85.5" lengthAdjust="spacingAndGlyphs">Podstawa chmur*</text>
<text x="5.5" y="457.5" fill="#000" font-size="10.6">o pokryciu</text>
<text x="10" y="471.3" fill="#000" font-size="10.6">&gt; 7.9 okt.</text>
<polyline points="57.5,468.5 130.5,468.5 190.5,456.5" fill="none" stroke="#000" stroke-width="1"/>
<text x="10" y="482" fill="#444" font-size="10.6" stroke="#444" stroke-width="0.2">&gt; 6.5 okt.</text>
<polyline points="57.5,479.5 143.5,479.5" fill="none" stroke="#444" stroke-width="1"/>
<text x="10" y="493" fill="#8c8c8c" font-size="10.6" stroke="#8c8c8c" stroke-width="0.2">&gt; 4.5 okt.</text>
<polyline points="55.5,490.5 128.5,490.5 143.5,500.5" fill="none" stroke="#8c8c8c" stroke-width="1"/>
<text x="10" y="503" fill="#d4d0c8" font-size="10.6" stroke="#d4d0c8" stroke-width="0.2">&gt; 2.5 okt.</text>
<polyline points="55.5,500.5 128.5,500.5 137.5,507.5" fill="none" stroke="#d4d0c8" stroke-width="1"/>
<rect x="11" y="506" width="43.500" height="10.500" fill="#63b8f5"/>
<text x="10" y="513.8" fill="#fff" font-size="10.6">&gt; 0.1 okt.</text>
<path d="M54.500 509.800H136M54.500 512.600H136" stroke="#63b8f5" stroke-width="1"/>
<text x="5.5" y="528.8" fill="#ff8c00" font-size="10.6" stroke="#ff8c00" stroke-width="0.2">Widzialność</text>
<polyline points="67.5,527.5 129.5,527.5 174.5,465.5" fill="none" stroke="#ff8c00" stroke-width="1"/>
<text x="5.5" y="545.8" fill="#000" font-size="10.6">Chmury:</text>
<rect x="10" y="551.500" width="41" height="10.500" fill="#63b8f5"/>
<text x="11" y="558.8" fill="#fff" font-size="10.6">wysokie</text>
<path d="M51 555.600H186M51 558.400H186" stroke="#63b8f5" stroke-width="1"/>
<text x="9.5" y="571.8" fill="#8c8c8c" font-size="10.6" stroke="#8c8c8c" stroke-width="0.2">średnie</text>
<polyline points="50.5,571.5 193.5,571.5" fill="none" stroke="#8c8c8c" stroke-width="1"/>
<text x="9.5" y="584.3" fill="#444" font-size="10.6" stroke="#444" stroke-width="0.2">niskie</text>
<polyline points="40.5,582.5 122.5,582.5" fill="none" stroke="#444" stroke-width="1"/>
<polyline points="130.5,582.5 136.5,582.5" fill="none" stroke="#444" stroke-width="1"/>
<text x="9.5" y="596.3" fill="#222" font-size="10.6" stroke="#222" stroke-width="0.2">bardzo niskie</text>
<polyline points="75.5,594.5 143.5,594.5" fill="none" stroke="#222" stroke-width="1"/>
<text x="5.5" y="608" fill="#ffb400" font-size="10.6" textLength="20.5" lengthAdjust="spacingAndGlyphs" stroke="#ffb400" stroke-width="0.2">Mgła</text>
<polyline points="30.5,605.5 217.5,605.5 219.5,600.5" fill="none" stroke="#ffa800" stroke-width="1"/>
<text x="5.5" y="626" fill="#000" font-size="11.6" textLength="131" lengthAdjust="spacing">Czas uniwersalny (UTC)</text>
<polyline points="138.5,624.5 147.5,624.5 157.5,611.5" fill="none" stroke="#000" stroke-width="1"/>
<text x="5.5" y="650.5" fill="#000" font-size="9.6" textLength="103" lengthAdjust="spacingAndGlyphs" stroke="#000" stroke-width=".3">* powyżej poziomu morza</text>
</svg>
</body></html>
